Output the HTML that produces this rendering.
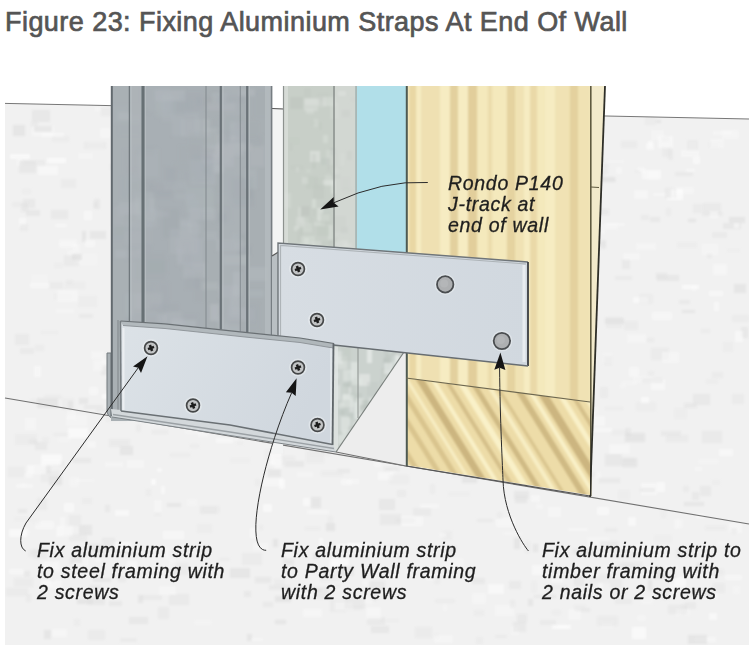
<!DOCTYPE html>
<html><head><meta charset="utf-8">
<style>
html,body{margin:0;padding:0;background:#fff;}
#wrap{position:relative;width:751px;height:649px;overflow:hidden;background:#fff;}
svg{position:absolute;left:0;top:0;}
.title{position:absolute;left:5px;top:7px;font-family:"Liberation Sans",sans-serif;font-size:27px;color:#555;letter-spacing:0.45px;white-space:nowrap;line-height:30px;-webkit-text-stroke:0.7px #555;}
.lbl{position:absolute;font-family:"Liberation Sans",sans-serif;font-style:italic;font-size:19.5px;line-height:21px;color:#1e1e1e;letter-spacing:0.7px;white-space:nowrap;-webkit-text-stroke:0.3px #1e1e1e;}
</style></head>
<body><div id="wrap">
<svg width="751" height="649" viewBox="0 0 751 649">
<defs><clipPath id="slabclip"><polygon points="5,103 749,119 749,645 5,645"/></clipPath><clipPath id="blockclip"><polygon points="406,378 590,402 590,495 406,465"/></clipPath><clipPath id="studclip"><rect x="111" y="86" width="161" height="335"/></clipPath><clipPath id="timclip"><polygon points="406,86 605,86 590,496 590,402 406,378"/></clipPath><clipPath id="jclip"><rect x="283" y="86" width="74" height="270"/></clipPath><filter id="blur1" x="-5%" y="-5%" width="110%" height="110%"><feGaussianBlur stdDeviation="1.2"/></filter><filter id="blur2" x="-5%" y="-5%" width="110%" height="110%"><feGaussianBlur stdDeviation="1.6"/></filter><linearGradient id="gUp" x1="0" x2="1" y1="0" y2="0"><stop offset="0" stop-color="#d7dde3"/><stop offset="1" stop-color="#d1d8df"/></linearGradient><linearGradient id="gLo" x1="0" x2="1" y1="0" y2="0.3"><stop offset="0" stop-color="#dce2e7"/><stop offset="1" stop-color="#d0d7de"/></linearGradient></defs>
<polygon points="5,103 749,119 749,645 5,645" fill="#f1f1f1"/>
<g clip-path="url(#slabclip)"><g filter="url(#blur1)">
<rect x="483" y="139" width="10" height="4" fill="#dedede" opacity="0.33"/>
<rect x="162" y="146" width="14" height="11" fill="#fdfdfd" opacity="0.32"/>
<rect x="616" y="167" width="6" height="7" fill="#f9f9f9" opacity="0.52"/>
<rect x="432" y="127" width="14" height="4" fill="#f9f9f9" opacity="0.32"/>
<rect x="110" y="164" width="19" height="6" fill="#e7e7e7" opacity="0.50"/>
<rect x="421" y="202" width="16" height="4" fill="#e3e3e3" opacity="0.49"/>
<rect x="157" y="468" width="5" height="4" fill="#fdfdfd" opacity="0.57"/>
<rect x="270" y="233" width="12" height="11" fill="#f9f9f9" opacity="0.54"/>
<rect x="391" y="570" width="8" height="8" fill="#fdfdfd" opacity="0.40"/>
<rect x="307" y="510" width="22" height="4" fill="#f9f9f9" opacity="0.63"/>
<rect x="62" y="398" width="12" height="12" fill="#e7e7e7" opacity="0.42"/>
<rect x="590" y="137" width="10" height="7" fill="#e3e3e3" opacity="0.63"/>
<rect x="49" y="476" width="13" height="9" fill="#dedede" opacity="0.65"/>
<rect x="285" y="461" width="19" height="6" fill="#e3e3e3" opacity="0.63"/>
<rect x="367" y="217" width="10" height="8" fill="#e7e7e7" opacity="0.35"/>
<rect x="646" y="143" width="8" height="7" fill="#fdfdfd" opacity="0.44"/>
<rect x="321" y="398" width="9" height="4" fill="#fdfdfd" opacity="0.65"/>
<rect x="173" y="145" width="16" height="6" fill="#f9f9f9" opacity="0.38"/>
<rect x="438" y="241" width="8" height="7" fill="#e3e3e3" opacity="0.35"/>
<rect x="238" y="167" width="14" height="8" fill="#dedede" opacity="0.63"/>
<rect x="338" y="566" width="16" height="10" fill="#dedede" opacity="0.44"/>
<rect x="470" y="134" width="11" height="4" fill="#e3e3e3" opacity="0.64"/>
<rect x="445" y="155" width="12" height="4" fill="#dedede" opacity="0.35"/>
<rect x="24" y="571" width="6" height="6" fill="#dedede" opacity="0.43"/>
<rect x="444" y="353" width="15" height="12" fill="#e3e3e3" opacity="0.60"/>
<rect x="354" y="146" width="22" height="7" fill="#e3e3e3" opacity="0.56"/>
<rect x="508" y="378" width="17" height="7" fill="#f9f9f9" opacity="0.63"/>
<rect x="402" y="115" width="14" height="4" fill="#dedede" opacity="0.40"/>
<rect x="621" y="381" width="16" height="4" fill="#f9f9f9" opacity="0.42"/>
<rect x="375" y="442" width="8" height="8" fill="#dedede" opacity="0.58"/>
<rect x="587" y="537" width="22" height="11" fill="#f9f9f9" opacity="0.37"/>
<rect x="729" y="523" width="13" height="10" fill="#fdfdfd" opacity="0.39"/>
<rect x="330" y="600" width="16" height="12" fill="#e7e7e7" opacity="0.63"/>
<rect x="171" y="206" width="11" height="5" fill="#f9f9f9" opacity="0.47"/>
<rect x="6" y="588" width="22" height="8" fill="#e7e7e7" opacity="0.58"/>
<rect x="677" y="519" width="6" height="9" fill="#f9f9f9" opacity="0.47"/>
<rect x="250" y="528" width="7" height="10" fill="#fdfdfd" opacity="0.46"/>
<rect x="120" y="638" width="17" height="4" fill="#e3e3e3" opacity="0.35"/>
<rect x="111" y="542" width="20" height="10" fill="#fdfdfd" opacity="0.53"/>
<rect x="101" y="108" width="10" height="8" fill="#e3e3e3" opacity="0.48"/>
<rect x="635" y="545" width="21" height="7" fill="#f9f9f9" opacity="0.31"/>
<rect x="567" y="275" width="8" height="8" fill="#dedede" opacity="0.45"/>
<rect x="266" y="345" width="6" height="11" fill="#dedede" opacity="0.59"/>
<rect x="647" y="170" width="13" height="10" fill="#f9f9f9" opacity="0.48"/>
<rect x="140" y="102" width="4" height="7" fill="#f9f9f9" opacity="0.36"/>
<rect x="412" y="275" width="13" height="10" fill="#dedede" opacity="0.49"/>
<rect x="651" y="130" width="13" height="10" fill="#f9f9f9" opacity="0.40"/>
<rect x="413" y="508" width="18" height="8" fill="#e3e3e3" opacity="0.46"/>
<rect x="378" y="472" width="15" height="8" fill="#fdfdfd" opacity="0.48"/>
<rect x="185" y="381" width="19" height="8" fill="#e7e7e7" opacity="0.62"/>
<rect x="329" y="325" width="20" height="5" fill="#fdfdfd" opacity="0.45"/>
<rect x="59" y="461" width="5" height="5" fill="#e3e3e3" opacity="0.61"/>
<rect x="492" y="177" width="7" height="9" fill="#f9f9f9" opacity="0.64"/>
<rect x="298" y="360" width="8" height="12" fill="#f9f9f9" opacity="0.36"/>
<rect x="253" y="205" width="12" height="8" fill="#e7e7e7" opacity="0.33"/>
<rect x="341" y="479" width="11" height="6" fill="#fdfdfd" opacity="0.42"/>
<rect x="52" y="629" width="15" height="8" fill="#f9f9f9" opacity="0.64"/>
<rect x="34" y="520" width="6" height="5" fill="#e7e7e7" opacity="0.56"/>
<rect x="495" y="605" width="19" height="11" fill="#fdfdfd" opacity="0.35"/>
<rect x="512" y="148" width="21" height="8" fill="#e3e3e3" opacity="0.58"/>
<rect x="203" y="109" width="7" height="11" fill="#e3e3e3" opacity="0.58"/>
<rect x="54" y="561" width="6" height="11" fill="#fdfdfd" opacity="0.30"/>
<rect x="666" y="435" width="22" height="7" fill="#e3e3e3" opacity="0.48"/>
<rect x="124" y="127" width="8" height="4" fill="#f9f9f9" opacity="0.63"/>
<rect x="155" y="339" width="15" height="8" fill="#f9f9f9" opacity="0.39"/>
<rect x="32" y="110" width="18" height="12" fill="#dedede" opacity="0.49"/>
<rect x="693" y="157" width="7" height="7" fill="#fdfdfd" opacity="0.53"/>
<rect x="713" y="264" width="14" height="11" fill="#f9f9f9" opacity="0.64"/>
<rect x="524" y="440" width="10" height="10" fill="#fdfdfd" opacity="0.65"/>
<rect x="15" y="434" width="22" height="11" fill="#e7e7e7" opacity="0.45"/>
<rect x="286" y="371" width="5" height="9" fill="#e7e7e7" opacity="0.51"/>
<rect x="140" y="246" width="16" height="3" fill="#e3e3e3" opacity="0.39"/>
<rect x="400" y="230" width="21" height="12" fill="#e7e7e7" opacity="0.38"/>
<rect x="67" y="250" width="7" height="6" fill="#f9f9f9" opacity="0.39"/>
<rect x="598" y="178" width="18" height="4" fill="#dedede" opacity="0.31"/>
<rect x="177" y="416" width="4" height="6" fill="#dedede" opacity="0.60"/>
<rect x="583" y="419" width="7" height="11" fill="#e7e7e7" opacity="0.55"/>
<rect x="457" y="178" width="13" height="6" fill="#dedede" opacity="0.52"/>
<rect x="106" y="380" width="17" height="10" fill="#dedede" opacity="0.50"/>
<rect x="503" y="532" width="19" height="3" fill="#f9f9f9" opacity="0.33"/>
<rect x="714" y="302" width="5" height="9" fill="#fdfdfd" opacity="0.50"/>
<rect x="501" y="362" width="15" height="9" fill="#e3e3e3" opacity="0.46"/>
<rect x="668" y="149" width="5" height="11" fill="#dedede" opacity="0.32"/>
<rect x="59" y="243" width="17" height="5" fill="#f9f9f9" opacity="0.38"/>
<rect x="621" y="141" width="16" height="7" fill="#e7e7e7" opacity="0.57"/>
<rect x="61" y="179" width="15" height="9" fill="#e7e7e7" opacity="0.53"/>
<rect x="102" y="359" width="16" height="9" fill="#fdfdfd" opacity="0.39"/>
<rect x="497" y="256" width="16" height="9" fill="#dedede" opacity="0.40"/>
<rect x="732" y="394" width="12" height="10" fill="#e7e7e7" opacity="0.64"/>
<rect x="337" y="544" width="21" height="3" fill="#fdfdfd" opacity="0.65"/>
<rect x="687" y="140" width="11" height="11" fill="#e3e3e3" opacity="0.35"/>
<rect x="102" y="538" width="13" height="12" fill="#dedede" opacity="0.40"/>
<rect x="372" y="572" width="6" height="6" fill="#fdfdfd" opacity="0.31"/>
<rect x="339" y="262" width="4" height="7" fill="#f9f9f9" opacity="0.45"/>
<rect x="248" y="276" width="11" height="4" fill="#e7e7e7" opacity="0.59"/>
<rect x="531" y="581" width="6" height="11" fill="#e7e7e7" opacity="0.39"/>
<rect x="648" y="141" width="5" height="7" fill="#fdfdfd" opacity="0.56"/>
<rect x="42" y="457" width="19" height="6" fill="#f9f9f9" opacity="0.39"/>
<rect x="145" y="301" width="9" height="8" fill="#fdfdfd" opacity="0.61"/>
<rect x="668" y="605" width="19" height="9" fill="#dedede" opacity="0.37"/>
<rect x="308" y="428" width="5" height="11" fill="#f9f9f9" opacity="0.53"/>
<rect x="686" y="169" width="9" height="3" fill="#fdfdfd" opacity="0.45"/>
<rect x="548" y="452" width="9" height="5" fill="#fdfdfd" opacity="0.53"/>
<rect x="295" y="190" width="9" height="8" fill="#f9f9f9" opacity="0.33"/>
<rect x="407" y="342" width="13" height="10" fill="#e7e7e7" opacity="0.65"/>
<rect x="146" y="149" width="12" height="4" fill="#e7e7e7" opacity="0.49"/>
<rect x="599" y="209" width="10" height="6" fill="#e3e3e3" opacity="0.56"/>
<rect x="389" y="303" width="11" height="7" fill="#e7e7e7" opacity="0.56"/>
<rect x="268" y="469" width="13" height="8" fill="#dedede" opacity="0.52"/>
<rect x="201" y="234" width="20" height="5" fill="#fdfdfd" opacity="0.53"/>
<rect x="601" y="622" width="12" height="6" fill="#f9f9f9" opacity="0.31"/>
<rect x="349" y="414" width="17" height="11" fill="#e3e3e3" opacity="0.33"/>
<rect x="387" y="350" width="21" height="11" fill="#fdfdfd" opacity="0.39"/>
<rect x="391" y="469" width="6" height="4" fill="#fdfdfd" opacity="0.33"/>
<rect x="96" y="409" width="18" height="3" fill="#e3e3e3" opacity="0.53"/>
<rect x="190" y="444" width="9" height="4" fill="#e3e3e3" opacity="0.33"/>
<rect x="146" y="239" width="9" height="11" fill="#dedede" opacity="0.30"/>
<rect x="208" y="269" width="14" height="12" fill="#f9f9f9" opacity="0.47"/>
<rect x="712" y="480" width="8" height="5" fill="#e7e7e7" opacity="0.32"/>
<rect x="482" y="143" width="7" height="11" fill="#f9f9f9" opacity="0.53"/>
<rect x="30" y="283" width="21" height="5" fill="#fdfdfd" opacity="0.43"/>
<rect x="219" y="558" width="11" height="3" fill="#e3e3e3" opacity="0.37"/>
<rect x="597" y="224" width="21" height="6" fill="#f9f9f9" opacity="0.39"/>
<rect x="456" y="430" width="20" height="4" fill="#f9f9f9" opacity="0.47"/>
<rect x="435" y="599" width="20" height="4" fill="#e3e3e3" opacity="0.37"/>
<rect x="42" y="133" width="22" height="4" fill="#fdfdfd" opacity="0.46"/>
<rect x="87" y="143" width="17" height="6" fill="#f9f9f9" opacity="0.42"/>
<rect x="555" y="117" width="7" height="11" fill="#fdfdfd" opacity="0.59"/>
<rect x="84" y="142" width="22" height="7" fill="#e3e3e3" opacity="0.42"/>
<rect x="702" y="212" width="21" height="4" fill="#e7e7e7" opacity="0.57"/>
<rect x="69" y="477" width="10" height="10" fill="#f9f9f9" opacity="0.43"/>
<rect x="269" y="585" width="21" height="5" fill="#e3e3e3" opacity="0.52"/>
<rect x="303" y="301" width="8" height="9" fill="#fdfdfd" opacity="0.32"/>
<rect x="546" y="585" width="21" height="5" fill="#e7e7e7" opacity="0.43"/>
<rect x="37" y="498" width="10" height="12" fill="#e7e7e7" opacity="0.62"/>
<rect x="443" y="531" width="9" height="9" fill="#e3e3e3" opacity="0.31"/>
<rect x="709" y="613" width="8" height="7" fill="#fdfdfd" opacity="0.58"/>
<rect x="101" y="365" width="20" height="10" fill="#e3e3e3" opacity="0.58"/>
<rect x="567" y="425" width="17" height="10" fill="#e7e7e7" opacity="0.60"/>
<rect x="441" y="374" width="12" height="10" fill="#fdfdfd" opacity="0.56"/>
<rect x="30" y="399" width="8" height="4" fill="#e7e7e7" opacity="0.36"/>
<rect x="58" y="438" width="12" height="4" fill="#f9f9f9" opacity="0.33"/>
<rect x="332" y="225" width="13" height="9" fill="#fdfdfd" opacity="0.46"/>
<rect x="395" y="518" width="20" height="5" fill="#e3e3e3" opacity="0.57"/>
<rect x="202" y="237" width="9" height="6" fill="#e7e7e7" opacity="0.37"/>
<rect x="118" y="577" width="8" height="5" fill="#dedede" opacity="0.37"/>
<rect x="187" y="384" width="5" height="5" fill="#e3e3e3" opacity="0.53"/>
<rect x="348" y="543" width="22" height="4" fill="#fdfdfd" opacity="0.62"/>
<rect x="93" y="202" width="5" height="6" fill="#dedede" opacity="0.37"/>
<rect x="136" y="424" width="5" height="8" fill="#e3e3e3" opacity="0.34"/>
<rect x="164" y="298" width="15" height="9" fill="#f9f9f9" opacity="0.32"/>
<rect x="534" y="595" width="22" height="3" fill="#e3e3e3" opacity="0.59"/>
<rect x="460" y="142" width="11" height="6" fill="#e3e3e3" opacity="0.58"/>
<rect x="79" y="314" width="14" height="4" fill="#dedede" opacity="0.35"/>
<rect x="296" y="245" width="14" height="9" fill="#e7e7e7" opacity="0.53"/>
<rect x="551" y="579" width="12" height="3" fill="#fdfdfd" opacity="0.45"/>
<rect x="269" y="205" width="20" height="12" fill="#fdfdfd" opacity="0.37"/>
<rect x="319" y="538" width="4" height="11" fill="#fdfdfd" opacity="0.50"/>
<rect x="100" y="128" width="11" height="10" fill="#f9f9f9" opacity="0.52"/>
<rect x="455" y="301" width="20" height="4" fill="#dedede" opacity="0.36"/>
<rect x="131" y="136" width="10" height="4" fill="#fdfdfd" opacity="0.47"/>
<rect x="148" y="168" width="18" height="12" fill="#e3e3e3" opacity="0.64"/>
<rect x="682" y="310" width="13" height="3" fill="#dedede" opacity="0.54"/>
<rect x="625" y="433" width="20" height="9" fill="#dedede" opacity="0.60"/>
<rect x="163" y="316" width="19" height="5" fill="#dedede" opacity="0.35"/>
<rect x="717" y="541" width="10" height="4" fill="#f9f9f9" opacity="0.31"/>
<rect x="33" y="549" width="14" height="10" fill="#e3e3e3" opacity="0.44"/>
<rect x="574" y="447" width="12" height="11" fill="#e7e7e7" opacity="0.50"/>
<rect x="332" y="335" width="12" height="9" fill="#e3e3e3" opacity="0.30"/>
<rect x="328" y="433" width="22" height="7" fill="#fdfdfd" opacity="0.59"/>
<rect x="54" y="293" width="19" height="7" fill="#e7e7e7" opacity="0.33"/>
<rect x="35" y="442" width="12" height="8" fill="#e3e3e3" opacity="0.62"/>
<rect x="64" y="503" width="10" height="9" fill="#fdfdfd" opacity="0.53"/>
<rect x="53" y="433" width="18" height="3" fill="#e3e3e3" opacity="0.37"/>
<rect x="696" y="592" width="22" height="7" fill="#f9f9f9" opacity="0.54"/>
<rect x="611" y="430" width="17" height="5" fill="#e7e7e7" opacity="0.36"/>
<rect x="595" y="177" width="20" height="5" fill="#dedede" opacity="0.64"/>
<rect x="455" y="227" width="13" height="8" fill="#e7e7e7" opacity="0.31"/>
<rect x="695" y="467" width="7" height="4" fill="#fdfdfd" opacity="0.36"/>
<rect x="390" y="444" width="18" height="4" fill="#e7e7e7" opacity="0.64"/>
<rect x="509" y="581" width="12" height="8" fill="#e7e7e7" opacity="0.65"/>
<rect x="586" y="243" width="15" height="7" fill="#e7e7e7" opacity="0.50"/>
<rect x="329" y="195" width="10" height="10" fill="#e3e3e3" opacity="0.40"/>
<rect x="711" y="569" width="13" height="6" fill="#e7e7e7" opacity="0.56"/>
<rect x="216" y="438" width="17" height="5" fill="#fdfdfd" opacity="0.48"/>
<rect x="170" y="453" width="20" height="4" fill="#e3e3e3" opacity="0.32"/>
<rect x="387" y="388" width="14" height="6" fill="#fdfdfd" opacity="0.50"/>
<rect x="460" y="357" width="15" height="5" fill="#f9f9f9" opacity="0.30"/>
<rect x="332" y="134" width="18" height="9" fill="#f9f9f9" opacity="0.60"/>
<rect x="197" y="106" width="18" height="7" fill="#dedede" opacity="0.61"/>
<rect x="444" y="378" width="15" height="8" fill="#fdfdfd" opacity="0.39"/>
<rect x="390" y="320" width="20" height="3" fill="#f9f9f9" opacity="0.36"/>
<rect x="448" y="455" width="20" height="4" fill="#f9f9f9" opacity="0.35"/>
<rect x="378" y="444" width="8" height="8" fill="#dedede" opacity="0.36"/>
<rect x="41" y="580" width="10" height="6" fill="#fdfdfd" opacity="0.55"/>
<rect x="556" y="349" width="4" height="11" fill="#fdfdfd" opacity="0.36"/>
<rect x="470" y="167" width="22" height="5" fill="#e7e7e7" opacity="0.55"/>
<rect x="326" y="523" width="9" height="8" fill="#dedede" opacity="0.64"/>
<rect x="662" y="146" width="9" height="11" fill="#dedede" opacity="0.31"/>
<rect x="552" y="610" width="9" height="5" fill="#e7e7e7" opacity="0.37"/>
<rect x="283" y="557" width="11" height="8" fill="#dedede" opacity="0.46"/>
<rect x="627" y="334" width="19" height="9" fill="#f9f9f9" opacity="0.50"/>
<rect x="462" y="142" width="10" height="5" fill="#f9f9f9" opacity="0.35"/>
<rect x="692" y="287" width="4" height="4" fill="#f9f9f9" opacity="0.55"/>
<rect x="481" y="123" width="5" height="4" fill="#e3e3e3" opacity="0.56"/>
<rect x="273" y="539" width="5" height="8" fill="#dedede" opacity="0.61"/>
<rect x="681" y="604" width="5" height="11" fill="#e3e3e3" opacity="0.39"/>
<rect x="704" y="594" width="8" height="3" fill="#e3e3e3" opacity="0.59"/>
<rect x="78" y="153" width="15" height="6" fill="#f9f9f9" opacity="0.40"/>
<rect x="263" y="602" width="10" height="5" fill="#e3e3e3" opacity="0.55"/>
<rect x="712" y="372" width="11" height="6" fill="#e7e7e7" opacity="0.52"/>
<rect x="328" y="516" width="5" height="7" fill="#e7e7e7" opacity="0.46"/>
<rect x="533" y="544" width="5" height="8" fill="#dedede" opacity="0.59"/>
<rect x="154" y="513" width="7" height="3" fill="#e3e3e3" opacity="0.30"/>
<rect x="588" y="199" width="13" height="7" fill="#fdfdfd" opacity="0.51"/>
<rect x="423" y="185" width="21" height="8" fill="#f9f9f9" opacity="0.63"/>
<rect x="696" y="514" width="8" height="4" fill="#fdfdfd" opacity="0.58"/>
<rect x="462" y="290" width="17" height="10" fill="#fdfdfd" opacity="0.62"/>
<rect x="311" y="446" width="20" height="10" fill="#e7e7e7" opacity="0.37"/>
<rect x="374" y="303" width="9" height="11" fill="#f9f9f9" opacity="0.63"/>
<rect x="513" y="425" width="6" height="8" fill="#e3e3e3" opacity="0.42"/>
<rect x="624" y="458" width="10" height="4" fill="#e7e7e7" opacity="0.36"/>
<rect x="429" y="167" width="12" height="10" fill="#fdfdfd" opacity="0.52"/>
<rect x="200" y="506" width="17" height="8" fill="#dedede" opacity="0.35"/>
<rect x="246" y="382" width="7" height="5" fill="#f9f9f9" opacity="0.38"/>
<rect x="695" y="637" width="21" height="5" fill="#f9f9f9" opacity="0.64"/>
<rect x="731" y="528" width="6" height="6" fill="#e7e7e7" opacity="0.45"/>
<rect x="84" y="211" width="8" height="9" fill="#fdfdfd" opacity="0.46"/>
<rect x="328" y="219" width="4" height="11" fill="#e7e7e7" opacity="0.46"/>
<rect x="303" y="498" width="7" height="8" fill="#fdfdfd" opacity="0.55"/>
<rect x="622" y="458" width="15" height="9" fill="#dedede" opacity="0.60"/>
<rect x="335" y="268" width="16" height="9" fill="#e3e3e3" opacity="0.61"/>
<rect x="529" y="184" width="8" height="7" fill="#fdfdfd" opacity="0.47"/>
<rect x="388" y="453" width="4" height="11" fill="#f9f9f9" opacity="0.61"/>
<rect x="616" y="592" width="10" height="3" fill="#e3e3e3" opacity="0.31"/>
<rect x="576" y="608" width="14" height="4" fill="#dedede" opacity="0.42"/>
<rect x="154" y="356" width="19" height="7" fill="#e3e3e3" opacity="0.52"/>
<rect x="303" y="609" width="19" height="8" fill="#f9f9f9" opacity="0.65"/>
<rect x="692" y="492" width="7" height="8" fill="#dedede" opacity="0.42"/>
<rect x="300" y="107" width="5" height="5" fill="#fdfdfd" opacity="0.62"/>
<rect x="428" y="159" width="15" height="9" fill="#e7e7e7" opacity="0.56"/>
<rect x="163" y="531" width="21" height="8" fill="#fdfdfd" opacity="0.46"/>
<rect x="56" y="526" width="7" height="11" fill="#f9f9f9" opacity="0.46"/>
<rect x="709" y="291" width="14" height="5" fill="#fdfdfd" opacity="0.46"/>
<rect x="97" y="548" width="9" height="8" fill="#e7e7e7" opacity="0.57"/>
<rect x="511" y="626" width="8" height="9" fill="#f9f9f9" opacity="0.47"/>
<rect x="265" y="450" width="18" height="10" fill="#e7e7e7" opacity="0.47"/>
<rect x="488" y="294" width="12" height="9" fill="#e7e7e7" opacity="0.60"/>
<rect x="674" y="519" width="5" height="10" fill="#f9f9f9" opacity="0.49"/>
<rect x="487" y="213" width="10" height="8" fill="#e3e3e3" opacity="0.53"/>
<rect x="110" y="226" width="9" height="4" fill="#fdfdfd" opacity="0.42"/>
<rect x="589" y="190" width="7" height="11" fill="#dedede" opacity="0.64"/>
<rect x="410" y="440" width="6" height="11" fill="#e7e7e7" opacity="0.37"/>
<rect x="545" y="336" width="16" height="8" fill="#e3e3e3" opacity="0.49"/>
<rect x="107" y="366" width="9" height="5" fill="#e3e3e3" opacity="0.47"/>
<rect x="183" y="188" width="20" height="9" fill="#dedede" opacity="0.60"/>
<rect x="351" y="401" width="4" height="11" fill="#e7e7e7" opacity="0.59"/>
<rect x="709" y="141" width="11" height="7" fill="#e7e7e7" opacity="0.52"/>
<rect x="510" y="600" width="5" height="8" fill="#e7e7e7" opacity="0.58"/>
<rect x="564" y="178" width="6" height="7" fill="#f9f9f9" opacity="0.55"/>
<rect x="633" y="297" width="15" height="6" fill="#fdfdfd" opacity="0.57"/>
<rect x="212" y="283" width="14" height="11" fill="#e7e7e7" opacity="0.49"/>
<rect x="605" y="318" width="19" height="6" fill="#dedede" opacity="0.64"/>
<rect x="152" y="365" width="20" height="6" fill="#e3e3e3" opacity="0.42"/>
<rect x="436" y="442" width="10" height="6" fill="#e3e3e3" opacity="0.44"/>
<rect x="424" y="315" width="14" height="7" fill="#e3e3e3" opacity="0.30"/>
<rect x="453" y="451" width="7" height="11" fill="#dedede" opacity="0.62"/>
<rect x="462" y="474" width="15" height="9" fill="#dedede" opacity="0.61"/>
<rect x="473" y="439" width="5" height="3" fill="#f9f9f9" opacity="0.34"/>
<rect x="576" y="595" width="7" height="3" fill="#e3e3e3" opacity="0.43"/>
<rect x="413" y="238" width="19" height="10" fill="#e7e7e7" opacity="0.36"/>
<rect x="424" y="413" width="5" height="3" fill="#e3e3e3" opacity="0.47"/>
<rect x="570" y="325" width="13" height="10" fill="#fdfdfd" opacity="0.46"/>
<rect x="443" y="605" width="4" height="6" fill="#f9f9f9" opacity="0.47"/>
<rect x="477" y="215" width="11" height="4" fill="#f9f9f9" opacity="0.52"/>
<rect x="495" y="635" width="12" height="3" fill="#e3e3e3" opacity="0.38"/>
<rect x="208" y="406" width="6" height="7" fill="#fdfdfd" opacity="0.56"/>
<rect x="575" y="486" width="7" height="3" fill="#f9f9f9" opacity="0.56"/>
<rect x="529" y="347" width="6" height="9" fill="#e7e7e7" opacity="0.62"/>
<rect x="50" y="579" width="5" height="3" fill="#dedede" opacity="0.33"/>
<rect x="127" y="561" width="10" height="10" fill="#fdfdfd" opacity="0.51"/>
<rect x="539" y="351" width="10" height="12" fill="#f9f9f9" opacity="0.35"/>
<rect x="473" y="439" width="18" height="6" fill="#fdfdfd" opacity="0.47"/>
<rect x="202" y="506" width="18" height="7" fill="#e7e7e7" opacity="0.40"/>
<rect x="525" y="541" width="5" height="12" fill="#e7e7e7" opacity="0.60"/>
<rect x="115" y="551" width="17" height="3" fill="#dedede" opacity="0.45"/>
<rect x="501" y="424" width="20" height="6" fill="#f9f9f9" opacity="0.58"/>
<rect x="198" y="329" width="9" height="3" fill="#dedede" opacity="0.62"/>
<rect x="215" y="175" width="18" height="10" fill="#dedede" opacity="0.35"/>
<rect x="401" y="516" width="22" height="10" fill="#fdfdfd" opacity="0.42"/>
<rect x="594" y="208" width="6" height="8" fill="#f9f9f9" opacity="0.41"/>
<rect x="528" y="599" width="5" height="7" fill="#dedede" opacity="0.56"/>
<rect x="69" y="534" width="18" height="7" fill="#e3e3e3" opacity="0.38"/>
<rect x="651" y="379" width="14" height="11" fill="#fdfdfd" opacity="0.48"/>
<rect x="73" y="535" width="8" height="5" fill="#e7e7e7" opacity="0.43"/>
<rect x="382" y="180" width="14" height="7" fill="#e3e3e3" opacity="0.62"/>
<rect x="277" y="348" width="13" height="11" fill="#e3e3e3" opacity="0.35"/>
<rect x="384" y="111" width="15" height="6" fill="#e3e3e3" opacity="0.37"/>
<rect x="430" y="215" width="20" height="8" fill="#e7e7e7" opacity="0.45"/>
<rect x="597" y="616" width="21" height="10" fill="#e7e7e7" opacity="0.60"/>
<rect x="283" y="115" width="10" height="12" fill="#e3e3e3" opacity="0.50"/>
<rect x="691" y="589" width="20" height="7" fill="#e3e3e3" opacity="0.60"/>
<rect x="520" y="148" width="16" height="11" fill="#e7e7e7" opacity="0.50"/>
<rect x="493" y="310" width="16" height="12" fill="#fdfdfd" opacity="0.60"/>
<rect x="534" y="193" width="11" height="5" fill="#e7e7e7" opacity="0.63"/>
<rect x="26" y="594" width="5" height="8" fill="#e7e7e7" opacity="0.58"/>
<rect x="722" y="130" width="17" height="9" fill="#f9f9f9" opacity="0.41"/>
<rect x="559" y="419" width="4" height="5" fill="#fdfdfd" opacity="0.57"/>
<rect x="195" y="167" width="6" height="6" fill="#fdfdfd" opacity="0.43"/>
<rect x="674" y="577" width="12" height="10" fill="#fdfdfd" opacity="0.55"/>
<rect x="688" y="219" width="8" height="3" fill="#dedede" opacity="0.60"/>
<rect x="329" y="152" width="20" height="4" fill="#fdfdfd" opacity="0.59"/>
<rect x="253" y="543" width="15" height="7" fill="#fdfdfd" opacity="0.34"/>
<rect x="545" y="197" width="11" height="6" fill="#fdfdfd" opacity="0.49"/>
<rect x="201" y="320" width="7" height="11" fill="#f9f9f9" opacity="0.31"/>
<rect x="592" y="241" width="14" height="6" fill="#e3e3e3" opacity="0.41"/>
<rect x="713" y="131" width="20" height="4" fill="#f9f9f9" opacity="0.50"/>
<rect x="552" y="625" width="19" height="4" fill="#fdfdfd" opacity="0.65"/>
<rect x="75" y="254" width="22" height="11" fill="#f9f9f9" opacity="0.32"/>
<rect x="716" y="109" width="17" height="6" fill="#dedede" opacity="0.42"/>
<rect x="619" y="385" width="7" height="3" fill="#f9f9f9" opacity="0.43"/>
<rect x="210" y="197" width="5" height="7" fill="#f9f9f9" opacity="0.48"/>
<rect x="447" y="548" width="8" height="5" fill="#dedede" opacity="0.56"/>
<rect x="105" y="462" width="18" height="5" fill="#f9f9f9" opacity="0.50"/>
<rect x="545" y="321" width="8" height="4" fill="#e3e3e3" opacity="0.48"/>
<rect x="474" y="610" width="10" height="6" fill="#e3e3e3" opacity="0.31"/>
<rect x="636" y="243" width="20" height="7" fill="#f9f9f9" opacity="0.50"/>
<rect x="512" y="411" width="22" height="3" fill="#e3e3e3" opacity="0.42"/>
<rect x="57" y="290" width="21" height="12" fill="#f9f9f9" opacity="0.59"/>
<rect x="520" y="306" width="20" height="6" fill="#e3e3e3" opacity="0.40"/>
<rect x="334" y="114" width="6" height="10" fill="#dedede" opacity="0.35"/>
<rect x="460" y="191" width="8" height="4" fill="#e7e7e7" opacity="0.39"/>
<rect x="75" y="479" width="19" height="3" fill="#f9f9f9" opacity="0.39"/>
<rect x="341" y="228" width="19" height="9" fill="#fdfdfd" opacity="0.34"/>
<rect x="38" y="166" width="20" height="9" fill="#fdfdfd" opacity="0.51"/>
<rect x="93" y="578" width="18" height="4" fill="#dedede" opacity="0.51"/>
<rect x="420" y="504" width="19" height="4" fill="#f9f9f9" opacity="0.63"/>
<rect x="518" y="420" width="4" height="9" fill="#dedede" opacity="0.48"/>
<rect x="574" y="281" width="11" height="11" fill="#f9f9f9" opacity="0.59"/>
<rect x="415" y="627" width="17" height="11" fill="#e7e7e7" opacity="0.59"/>
<rect x="380" y="619" width="19" height="3" fill="#e7e7e7" opacity="0.39"/>
<rect x="272" y="385" width="12" height="9" fill="#e3e3e3" opacity="0.41"/>
<rect x="171" y="326" width="8" height="9" fill="#fdfdfd" opacity="0.57"/>
<rect x="590" y="574" width="21" height="9" fill="#e3e3e3" opacity="0.31"/>
<rect x="499" y="248" width="16" height="5" fill="#dedede" opacity="0.58"/>
<rect x="95" y="107" width="5" height="4" fill="#f9f9f9" opacity="0.63"/>
<rect x="481" y="165" width="9" height="6" fill="#dedede" opacity="0.64"/>
<rect x="66" y="415" width="21" height="11" fill="#f9f9f9" opacity="0.45"/>
<rect x="674" y="408" width="13" height="11" fill="#e7e7e7" opacity="0.39"/>
<rect x="625" y="428" width="6" height="8" fill="#dedede" opacity="0.38"/>
<rect x="274" y="579" width="11" height="8" fill="#e7e7e7" opacity="0.51"/>
<rect x="182" y="219" width="12" height="6" fill="#dedede" opacity="0.49"/>
<rect x="673" y="187" width="21" height="7" fill="#f9f9f9" opacity="0.41"/>
<rect x="650" y="217" width="10" height="5" fill="#e3e3e3" opacity="0.57"/>
<rect x="647" y="338" width="7" height="4" fill="#e3e3e3" opacity="0.48"/>
<rect x="558" y="381" width="19" height="6" fill="#f9f9f9" opacity="0.45"/>
<rect x="152" y="430" width="16" height="4" fill="#e7e7e7" opacity="0.59"/>
<rect x="548" y="507" width="13" height="10" fill="#fdfdfd" opacity="0.39"/>
<rect x="518" y="322" width="15" height="9" fill="#e3e3e3" opacity="0.30"/>
<rect x="367" y="617" width="18" height="8" fill="#dedede" opacity="0.35"/>
<rect x="455" y="160" width="19" height="6" fill="#fdfdfd" opacity="0.54"/>
<rect x="264" y="383" width="9" height="6" fill="#dedede" opacity="0.43"/>
<rect x="629" y="367" width="10" height="10" fill="#fdfdfd" opacity="0.41"/>
<rect x="323" y="302" width="14" height="10" fill="#f9f9f9" opacity="0.33"/>
<rect x="615" y="552" width="21" height="6" fill="#e7e7e7" opacity="0.37"/>
<rect x="13" y="125" width="12" height="11" fill="#dedede" opacity="0.61"/>
<rect x="235" y="433" width="9" height="8" fill="#fdfdfd" opacity="0.48"/>
<rect x="290" y="292" width="13" height="9" fill="#dedede" opacity="0.54"/>
<rect x="55" y="224" width="12" height="3" fill="#fdfdfd" opacity="0.43"/>
<rect x="426" y="572" width="11" height="8" fill="#fdfdfd" opacity="0.47"/>
<rect x="734" y="284" width="12" height="9" fill="#dedede" opacity="0.56"/>
<rect x="276" y="140" width="6" height="6" fill="#e7e7e7" opacity="0.48"/>
<rect x="514" y="538" width="6" height="11" fill="#dedede" opacity="0.61"/>
<rect x="217" y="377" width="12" height="4" fill="#dedede" opacity="0.61"/>
<rect x="419" y="158" width="11" height="4" fill="#dedede" opacity="0.65"/>
<rect x="305" y="527" width="15" height="3" fill="#e7e7e7" opacity="0.55"/>
<rect x="295" y="153" width="14" height="11" fill="#e3e3e3" opacity="0.53"/>
<rect x="412" y="243" width="8" height="7" fill="#dedede" opacity="0.48"/>
<rect x="449" y="179" width="7" height="5" fill="#dedede" opacity="0.57"/>
<rect x="131" y="383" width="6" height="4" fill="#fdfdfd" opacity="0.51"/>
<rect x="14" y="517" width="19" height="4" fill="#e7e7e7" opacity="0.35"/>
<rect x="29" y="439" width="8" height="5" fill="#dedede" opacity="0.32"/>
<rect x="19" y="218" width="7" height="9" fill="#fdfdfd" opacity="0.50"/>
<rect x="453" y="234" width="21" height="7" fill="#e3e3e3" opacity="0.36"/>
<rect x="9" y="569" width="15" height="5" fill="#fdfdfd" opacity="0.41"/>
<rect x="366" y="607" width="15" height="12" fill="#f9f9f9" opacity="0.54"/>
<rect x="306" y="314" width="16" height="8" fill="#fdfdfd" opacity="0.31"/>
<rect x="128" y="305" width="20" height="4" fill="#e3e3e3" opacity="0.64"/>
<rect x="89" y="387" width="9" height="8" fill="#fdfdfd" opacity="0.42"/>
<rect x="313" y="587" width="16" height="12" fill="#dedede" opacity="0.39"/>
<rect x="180" y="119" width="7" height="6" fill="#e3e3e3" opacity="0.42"/>
<rect x="73" y="244" width="7" height="9" fill="#f9f9f9" opacity="0.49"/>
<rect x="181" y="297" width="12" height="10" fill="#f9f9f9" opacity="0.55"/>
<rect x="158" y="607" width="11" height="12" fill="#dedede" opacity="0.37"/>
<rect x="688" y="635" width="19" height="9" fill="#dedede" opacity="0.61"/>
<rect x="185" y="428" width="15" height="6" fill="#f9f9f9" opacity="0.34"/>
<rect x="71" y="557" width="18" height="9" fill="#fdfdfd" opacity="0.31"/>
<rect x="16" y="484" width="17" height="4" fill="#f9f9f9" opacity="0.57"/>
<rect x="661" y="137" width="8" height="5" fill="#e7e7e7" opacity="0.58"/>
<rect x="527" y="148" width="18" height="5" fill="#e7e7e7" opacity="0.34"/>
<rect x="298" y="590" width="17" height="6" fill="#f9f9f9" opacity="0.63"/>
<rect x="594" y="472" width="7" height="6" fill="#fdfdfd" opacity="0.31"/>
<rect x="732" y="315" width="17" height="7" fill="#e3e3e3" opacity="0.36"/>
<rect x="547" y="480" width="6" height="11" fill="#e3e3e3" opacity="0.44"/>
<rect x="557" y="184" width="15" height="7" fill="#e3e3e3" opacity="0.49"/>
<rect x="416" y="221" width="15" height="11" fill="#fdfdfd" opacity="0.55"/>
<rect x="508" y="288" width="9" height="7" fill="#e3e3e3" opacity="0.34"/>
<rect x="659" y="569" width="18" height="9" fill="#dedede" opacity="0.51"/>
<rect x="87" y="527" width="5" height="5" fill="#f9f9f9" opacity="0.57"/>
<rect x="311" y="497" width="10" height="11" fill="#dedede" opacity="0.59"/>
<rect x="701" y="329" width="9" height="4" fill="#e7e7e7" opacity="0.54"/>
<rect x="461" y="342" width="17" height="10" fill="#e3e3e3" opacity="0.54"/>
<rect x="628" y="517" width="8" height="9" fill="#fdfdfd" opacity="0.57"/>
<rect x="601" y="240" width="5" height="9" fill="#dedede" opacity="0.36"/>
<rect x="194" y="620" width="18" height="5" fill="#f9f9f9" opacity="0.43"/>
<rect x="233" y="174" width="11" height="5" fill="#fdfdfd" opacity="0.53"/>
<rect x="384" y="340" width="8" height="5" fill="#e7e7e7" opacity="0.54"/>
<rect x="438" y="229" width="6" height="9" fill="#e3e3e3" opacity="0.49"/>
<rect x="489" y="424" width="18" height="5" fill="#fdfdfd" opacity="0.59"/>
<rect x="511" y="107" width="11" height="5" fill="#fdfdfd" opacity="0.37"/>
<rect x="151" y="479" width="5" height="6" fill="#fdfdfd" opacity="0.64"/>
<rect x="425" y="256" width="7" height="7" fill="#dedede" opacity="0.33"/>
<rect x="560" y="145" width="4" height="12" fill="#e7e7e7" opacity="0.64"/>
<rect x="362" y="335" width="14" height="4" fill="#f9f9f9" opacity="0.57"/>
<rect x="72" y="254" width="10" height="6" fill="#dedede" opacity="0.63"/>
<rect x="184" y="175" width="16" height="5" fill="#e3e3e3" opacity="0.31"/>
<rect x="275" y="620" width="11" height="4" fill="#dedede" opacity="0.60"/>
<rect x="573" y="549" width="21" height="5" fill="#dedede" opacity="0.41"/>
<rect x="241" y="297" width="7" height="10" fill="#dedede" opacity="0.62"/>
<rect x="47" y="158" width="19" height="5" fill="#fdfdfd" opacity="0.62"/>
<rect x="366" y="185" width="21" height="7" fill="#e7e7e7" opacity="0.51"/>
<rect x="171" y="175" width="15" height="4" fill="#fdfdfd" opacity="0.33"/>
<rect x="146" y="489" width="5" height="7" fill="#e3e3e3" opacity="0.31"/>
<rect x="378" y="177" width="15" height="11" fill="#e3e3e3" opacity="0.53"/>
<rect x="252" y="336" width="13" height="7" fill="#f9f9f9" opacity="0.62"/>
<rect x="332" y="404" width="7" height="6" fill="#e7e7e7" opacity="0.50"/>
<rect x="383" y="330" width="12" height="8" fill="#dedede" opacity="0.62"/>
<rect x="702" y="431" width="20" height="12" fill="#e3e3e3" opacity="0.55"/>
<rect x="420" y="326" width="10" height="9" fill="#e7e7e7" opacity="0.47"/>
<rect x="255" y="577" width="16" height="6" fill="#e3e3e3" opacity="0.60"/>
<rect x="514" y="179" width="8" height="10" fill="#dedede" opacity="0.43"/>
<rect x="392" y="404" width="14" height="7" fill="#fdfdfd" opacity="0.39"/>
<rect x="154" y="500" width="8" height="12" fill="#f9f9f9" opacity="0.60"/>
<rect x="395" y="236" width="9" height="4" fill="#fdfdfd" opacity="0.38"/>
<rect x="515" y="495" width="12" height="8" fill="#dedede" opacity="0.50"/>
<rect x="585" y="172" width="19" height="9" fill="#dedede" opacity="0.49"/>
<rect x="88" y="630" width="17" height="10" fill="#dedede" opacity="0.34"/>
<rect x="129" y="617" width="19" height="7" fill="#dedede" opacity="0.47"/>
<rect x="462" y="318" width="6" height="6" fill="#e3e3e3" opacity="0.43"/>
<rect x="163" y="261" width="4" height="8" fill="#f9f9f9" opacity="0.45"/>
<rect x="636" y="402" width="20" height="9" fill="#e7e7e7" opacity="0.36"/>
<rect x="560" y="467" width="17" height="6" fill="#e7e7e7" opacity="0.34"/>
<rect x="700" y="486" width="11" height="10" fill="#e3e3e3" opacity="0.59"/>
<rect x="245" y="425" width="10" height="6" fill="#e3e3e3" opacity="0.62"/>
<rect x="146" y="341" width="16" height="5" fill="#dedede" opacity="0.45"/>
<rect x="59" y="239" width="18" height="7" fill="#f9f9f9" opacity="0.49"/>
<rect x="285" y="177" width="9" height="9" fill="#e7e7e7" opacity="0.49"/>
<rect x="695" y="107" width="16" height="10" fill="#e7e7e7" opacity="0.65"/>
<rect x="28" y="550" width="13" height="7" fill="#e3e3e3" opacity="0.36"/>
<rect x="290" y="355" width="19" height="9" fill="#f9f9f9" opacity="0.54"/>
<rect x="706" y="379" width="12" height="5" fill="#e7e7e7" opacity="0.42"/>
<rect x="439" y="123" width="8" height="11" fill="#f9f9f9" opacity="0.59"/>
<rect x="345" y="605" width="17" height="6" fill="#e7e7e7" opacity="0.30"/>
<rect x="20" y="348" width="14" height="6" fill="#dedede" opacity="0.32"/>
<rect x="206" y="246" width="7" height="9" fill="#dedede" opacity="0.65"/>
<rect x="434" y="175" width="10" height="8" fill="#e3e3e3" opacity="0.62"/>
<rect x="149" y="331" width="20" height="4" fill="#dedede" opacity="0.52"/>
<rect x="588" y="571" width="11" height="6" fill="#f9f9f9" opacity="0.54"/>
<rect x="548" y="372" width="9" height="10" fill="#f9f9f9" opacity="0.42"/>
<rect x="49" y="282" width="14" height="7" fill="#e7e7e7" opacity="0.61"/>
<rect x="654" y="535" width="18" height="8" fill="#e7e7e7" opacity="0.35"/>
<rect x="499" y="316" width="8" height="11" fill="#fdfdfd" opacity="0.50"/>
<rect x="54" y="263" width="9" height="5" fill="#e7e7e7" opacity="0.39"/>
<rect x="710" y="139" width="14" height="9" fill="#f9f9f9" opacity="0.50"/>
<rect x="434" y="634" width="5" height="5" fill="#e7e7e7" opacity="0.64"/>
<rect x="676" y="549" width="16" height="9" fill="#e7e7e7" opacity="0.61"/>
<rect x="22" y="189" width="9" height="5" fill="#e7e7e7" opacity="0.38"/>
<rect x="336" y="584" width="4" height="3" fill="#e7e7e7" opacity="0.60"/>
<rect x="540" y="620" width="16" height="5" fill="#dedede" opacity="0.32"/>
<rect x="430" y="484" width="5" height="10" fill="#e3e3e3" opacity="0.37"/>
<rect x="472" y="593" width="14" height="11" fill="#f9f9f9" opacity="0.41"/>
<rect x="357" y="430" width="20" height="3" fill="#e7e7e7" opacity="0.36"/>
<rect x="68" y="428" width="20" height="10" fill="#fdfdfd" opacity="0.65"/>
<rect x="645" y="114" width="11" height="11" fill="#e7e7e7" opacity="0.50"/>
<rect x="448" y="492" width="22" height="4" fill="#e7e7e7" opacity="0.35"/>
<rect x="397" y="554" width="4" height="5" fill="#e7e7e7" opacity="0.58"/>
<rect x="436" y="398" width="12" height="8" fill="#dedede" opacity="0.50"/>
<rect x="604" y="356" width="8" height="9" fill="#e3e3e3" opacity="0.57"/>
<rect x="723" y="342" width="10" height="10" fill="#e7e7e7" opacity="0.43"/>
<rect x="190" y="401" width="14" height="5" fill="#e3e3e3" opacity="0.53"/>
<rect x="723" y="223" width="18" height="6" fill="#e3e3e3" opacity="0.63"/>
<rect x="401" y="211" width="15" height="4" fill="#f9f9f9" opacity="0.39"/>
<rect x="663" y="566" width="15" height="10" fill="#f9f9f9" opacity="0.48"/>
<rect x="329" y="561" width="10" height="9" fill="#f9f9f9" opacity="0.52"/>
<rect x="343" y="273" width="10" height="10" fill="#e3e3e3" opacity="0.34"/>
<rect x="474" y="318" width="17" height="4" fill="#e7e7e7" opacity="0.32"/>
<rect x="676" y="609" width="14" height="7" fill="#f9f9f9" opacity="0.31"/>
<rect x="184" y="290" width="4" height="9" fill="#e7e7e7" opacity="0.57"/>
<rect x="729" y="217" width="16" height="6" fill="#dedede" opacity="0.58"/>
<rect x="568" y="609" width="13" height="11" fill="#f9f9f9" opacity="0.59"/>
<rect x="362" y="580" width="9" height="6" fill="#f9f9f9" opacity="0.41"/>
<rect x="160" y="128" width="15" height="12" fill="#f9f9f9" opacity="0.60"/>
<rect x="567" y="338" width="17" height="3" fill="#fdfdfd" opacity="0.60"/>
<rect x="23" y="160" width="22" height="6" fill="#e3e3e3" opacity="0.35"/>
<rect x="263" y="504" width="9" height="8" fill="#fdfdfd" opacity="0.54"/>
<rect x="683" y="486" width="6" height="6" fill="#e7e7e7" opacity="0.64"/>
<rect x="591" y="472" width="5" height="5" fill="#e3e3e3" opacity="0.35"/>
<rect x="514" y="491" width="15" height="8" fill="#e3e3e3" opacity="0.65"/>
<rect x="93" y="360" width="10" height="11" fill="#f9f9f9" opacity="0.48"/>
<rect x="405" y="442" width="4" height="5" fill="#dedede" opacity="0.48"/>
<rect x="371" y="595" width="6" height="6" fill="#e7e7e7" opacity="0.64"/>
<rect x="167" y="139" width="19" height="12" fill="#f9f9f9" opacity="0.31"/>
<rect x="149" y="126" width="9" height="12" fill="#dedede" opacity="0.63"/>
<rect x="35" y="345" width="9" height="6" fill="#e7e7e7" opacity="0.49"/>
<rect x="641" y="483" width="16" height="12" fill="#fdfdfd" opacity="0.45"/>
<rect x="115" y="510" width="14" height="6" fill="#fdfdfd" opacity="0.58"/>
<rect x="178" y="369" width="20" height="9" fill="#e7e7e7" opacity="0.54"/>
<rect x="605" y="454" width="17" height="12" fill="#e3e3e3" opacity="0.60"/>
<rect x="41" y="471" width="18" height="11" fill="#e7e7e7" opacity="0.54"/>
<rect x="338" y="410" width="12" height="9" fill="#fdfdfd" opacity="0.56"/>
<rect x="434" y="635" width="19" height="8" fill="#f9f9f9" opacity="0.59"/>
<rect x="263" y="134" width="18" height="11" fill="#dedede" opacity="0.39"/>
<rect x="57" y="526" width="16" height="10" fill="#f9f9f9" opacity="0.62"/>
<rect x="616" y="563" width="18" height="5" fill="#e7e7e7" opacity="0.48"/>
<rect x="109" y="601" width="13" height="5" fill="#dedede" opacity="0.43"/>
<rect x="274" y="464" width="8" height="5" fill="#f9f9f9" opacity="0.59"/>
<rect x="610" y="579" width="12" height="9" fill="#e3e3e3" opacity="0.41"/>
<rect x="319" y="319" width="11" height="11" fill="#e7e7e7" opacity="0.43"/>
<rect x="388" y="262" width="11" height="9" fill="#e3e3e3" opacity="0.40"/>
<rect x="87" y="441" width="9" height="7" fill="#f9f9f9" opacity="0.57"/>
<rect x="276" y="379" width="7" height="9" fill="#f9f9f9" opacity="0.52"/>
<rect x="190" y="397" width="13" height="10" fill="#e3e3e3" opacity="0.50"/>
<rect x="536" y="248" width="5" height="5" fill="#e7e7e7" opacity="0.39"/>
<rect x="391" y="365" width="9" height="7" fill="#e3e3e3" opacity="0.37"/>
<rect x="458" y="299" width="12" height="10" fill="#e3e3e3" opacity="0.55"/>
<rect x="557" y="625" width="11" height="3" fill="#fdfdfd" opacity="0.53"/>
<rect x="285" y="412" width="19" height="6" fill="#dedede" opacity="0.37"/>
<rect x="274" y="456" width="21" height="9" fill="#e7e7e7" opacity="0.60"/>
<rect x="295" y="323" width="5" height="7" fill="#e3e3e3" opacity="0.34"/>
<rect x="517" y="333" width="14" height="11" fill="#fdfdfd" opacity="0.36"/>
<rect x="105" y="505" width="5" height="7" fill="#e3e3e3" opacity="0.53"/>
<rect x="34" y="466" width="17" height="7" fill="#dedede" opacity="0.42"/>
<rect x="71" y="556" width="11" height="7" fill="#dedede" opacity="0.59"/>
<rect x="561" y="405" width="6" height="4" fill="#e3e3e3" opacity="0.59"/>
<rect x="641" y="397" width="8" height="6" fill="#fdfdfd" opacity="0.60"/>
<rect x="42" y="437" width="7" height="7" fill="#e7e7e7" opacity="0.42"/>
<rect x="727" y="249" width="13" height="3" fill="#e7e7e7" opacity="0.33"/>
<rect x="224" y="312" width="11" height="9" fill="#fdfdfd" opacity="0.54"/>
<rect x="284" y="335" width="10" height="5" fill="#dedede" opacity="0.39"/>
<rect x="400" y="302" width="8" height="3" fill="#fdfdfd" opacity="0.53"/>
<rect x="682" y="285" width="17" height="4" fill="#fdfdfd" opacity="0.62"/>
<rect x="234" y="389" width="14" height="3" fill="#fdfdfd" opacity="0.63"/>
<rect x="164" y="338" width="19" height="3" fill="#f9f9f9" opacity="0.55"/>
<rect x="335" y="602" width="18" height="8" fill="#fdfdfd" opacity="0.37"/>
<rect x="637" y="167" width="8" height="5" fill="#f9f9f9" opacity="0.60"/>
<rect x="138" y="595" width="5" height="8" fill="#dedede" opacity="0.56"/>
<rect x="536" y="504" width="7" height="5" fill="#f9f9f9" opacity="0.49"/>
<rect x="532" y="376" width="7" height="10" fill="#fdfdfd" opacity="0.33"/>
<rect x="306" y="451" width="18" height="12" fill="#e7e7e7" opacity="0.55"/>
<rect x="641" y="597" width="12" height="7" fill="#f9f9f9" opacity="0.31"/>
<rect x="174" y="414" width="19" height="6" fill="#e7e7e7" opacity="0.55"/>
<rect x="193" y="396" width="17" height="6" fill="#f9f9f9" opacity="0.35"/>
<rect x="289" y="118" width="18" height="12" fill="#fdfdfd" opacity="0.35"/>
<rect x="515" y="206" width="9" height="9" fill="#f9f9f9" opacity="0.55"/>
<rect x="89" y="544" width="12" height="9" fill="#e3e3e3" opacity="0.53"/>
<rect x="391" y="139" width="8" height="9" fill="#fdfdfd" opacity="0.42"/>
<rect x="681" y="150" width="18" height="7" fill="#fdfdfd" opacity="0.40"/>
<rect x="560" y="208" width="9" height="8" fill="#fdfdfd" opacity="0.39"/>
<rect x="169" y="594" width="20" height="11" fill="#e3e3e3" opacity="0.50"/>
<rect x="148" y="182" width="6" height="3" fill="#e7e7e7" opacity="0.32"/>
<rect x="187" y="499" width="10" height="7" fill="#f9f9f9" opacity="0.34"/>
<rect x="530" y="343" width="19" height="10" fill="#dedede" opacity="0.34"/>
<rect x="31" y="121" width="7" height="7" fill="#dedede" opacity="0.33"/>
<rect x="426" y="291" width="16" height="4" fill="#e7e7e7" opacity="0.55"/>
<rect x="487" y="149" width="17" height="6" fill="#e3e3e3" opacity="0.59"/>
<rect x="113" y="151" width="20" height="7" fill="#f9f9f9" opacity="0.34"/>
<rect x="91" y="351" width="13" height="8" fill="#f9f9f9" opacity="0.50"/>
<rect x="707" y="253" width="5" height="5" fill="#dedede" opacity="0.37"/>
<rect x="648" y="371" width="6" height="5" fill="#e3e3e3" opacity="0.31"/>
<rect x="577" y="407" width="21" height="7" fill="#f9f9f9" opacity="0.33"/>
<rect x="741" y="327" width="7" height="11" fill="#dedede" opacity="0.48"/>
<rect x="67" y="409" width="9" height="11" fill="#f9f9f9" opacity="0.39"/>
<rect x="600" y="541" width="18" height="8" fill="#e3e3e3" opacity="0.51"/>
<rect x="452" y="475" width="22" height="3" fill="#e7e7e7" opacity="0.42"/>
<rect x="673" y="106" width="19" height="7" fill="#fdfdfd" opacity="0.58"/>
<rect x="114" y="374" width="5" height="10" fill="#f9f9f9" opacity="0.35"/>
<rect x="150" y="219" width="10" height="4" fill="#e7e7e7" opacity="0.55"/>
<rect x="656" y="120" width="5" height="3" fill="#dedede" opacity="0.57"/>
<rect x="466" y="207" width="20" height="10" fill="#e3e3e3" opacity="0.60"/>
<rect x="526" y="289" width="18" height="4" fill="#f9f9f9" opacity="0.58"/>
<rect x="368" y="239" width="13" height="10" fill="#e7e7e7" opacity="0.62"/>
<rect x="588" y="416" width="17" height="10" fill="#fdfdfd" opacity="0.44"/>
<rect x="379" y="499" width="16" height="11" fill="#dedede" opacity="0.49"/>
<rect x="705" y="526" width="21" height="4" fill="#e7e7e7" opacity="0.56"/>
<rect x="431" y="403" width="19" height="5" fill="#fdfdfd" opacity="0.50"/>
<rect x="41" y="454" width="21" height="11" fill="#fdfdfd" opacity="0.58"/>
<rect x="606" y="317" width="16" height="11" fill="#e3e3e3" opacity="0.38"/>
<rect x="488" y="584" width="16" height="10" fill="#fdfdfd" opacity="0.58"/>
<rect x="17" y="159" width="4" height="7" fill="#fdfdfd" opacity="0.45"/>
<rect x="250" y="215" width="15" height="7" fill="#e7e7e7" opacity="0.44"/>
<rect x="251" y="638" width="12" height="3" fill="#f9f9f9" opacity="0.55"/>
<rect x="596" y="165" width="12" height="9" fill="#e3e3e3" opacity="0.43"/>
<rect x="246" y="181" width="20" height="7" fill="#f9f9f9" opacity="0.38"/>
<rect x="652" y="312" width="20" height="8" fill="#fdfdfd" opacity="0.41"/>
<rect x="444" y="558" width="20" height="10" fill="#f9f9f9" opacity="0.44"/>
<rect x="82" y="231" width="4" height="11" fill="#dedede" opacity="0.58"/>
<rect x="79" y="398" width="9" height="6" fill="#dedede" opacity="0.53"/>
<rect x="192" y="323" width="6" height="10" fill="#dedede" opacity="0.52"/>
<rect x="270" y="453" width="12" height="12" fill="#fdfdfd" opacity="0.63"/>
<rect x="480" y="367" width="19" height="4" fill="#e3e3e3" opacity="0.32"/>
<rect x="409" y="340" width="19" height="9" fill="#dedede" opacity="0.61"/>
<rect x="31" y="274" width="17" height="10" fill="#f9f9f9" opacity="0.30"/>
<rect x="141" y="595" width="21" height="5" fill="#dedede" opacity="0.32"/>
<rect x="475" y="250" width="11" height="10" fill="#f9f9f9" opacity="0.40"/>
<rect x="719" y="449" width="14" height="7" fill="#fdfdfd" opacity="0.47"/>
<rect x="657" y="275" width="22" height="6" fill="#dedede" opacity="0.47"/>
<rect x="666" y="208" width="5" height="8" fill="#e3e3e3" opacity="0.36"/>
<rect x="232" y="129" width="17" height="5" fill="#e7e7e7" opacity="0.64"/>
<rect x="509" y="247" width="18" height="6" fill="#fdfdfd" opacity="0.37"/>
<rect x="85" y="240" width="10" height="7" fill="#fdfdfd" opacity="0.41"/>
<rect x="87" y="598" width="18" height="7" fill="#dedede" opacity="0.46"/>
<rect x="569" y="269" width="19" height="9" fill="#f9f9f9" opacity="0.40"/>
<rect x="624" y="321" width="14" height="9" fill="#e3e3e3" opacity="0.40"/>
<rect x="393" y="254" width="11" height="11" fill="#e3e3e3" opacity="0.39"/>
<rect x="605" y="407" width="18" height="3" fill="#e7e7e7" opacity="0.51"/>
<rect x="655" y="567" width="10" height="12" fill="#e3e3e3" opacity="0.56"/>
<rect x="593" y="160" width="16" height="7" fill="#e7e7e7" opacity="0.36"/>
<rect x="552" y="163" width="7" height="10" fill="#fdfdfd" opacity="0.44"/>
<rect x="252" y="310" width="21" height="10" fill="#e7e7e7" opacity="0.42"/>
<rect x="397" y="378" width="7" height="11" fill="#e7e7e7" opacity="0.35"/>
<rect x="308" y="372" width="10" height="4" fill="#dedede" opacity="0.53"/>
<rect x="424" y="247" width="14" height="7" fill="#f9f9f9" opacity="0.35"/>
<rect x="369" y="581" width="16" height="10" fill="#e3e3e3" opacity="0.56"/>
<rect x="642" y="170" width="19" height="9" fill="#fdfdfd" opacity="0.51"/>
<rect x="448" y="546" width="9" height="4" fill="#e7e7e7" opacity="0.51"/>
<rect x="265" y="407" width="20" height="6" fill="#e3e3e3" opacity="0.43"/>
<rect x="615" y="276" width="17" height="4" fill="#e3e3e3" opacity="0.46"/>
<rect x="371" y="626" width="18" height="7" fill="#dedede" opacity="0.49"/>
<rect x="605" y="160" width="19" height="3" fill="#f9f9f9" opacity="0.40"/>
<rect x="389" y="223" width="21" height="12" fill="#dedede" opacity="0.58"/>
<rect x="600" y="387" width="8" height="11" fill="#e3e3e3" opacity="0.38"/>
<rect x="203" y="300" width="7" height="10" fill="#e7e7e7" opacity="0.55"/>
<rect x="379" y="417" width="15" height="7" fill="#f9f9f9" opacity="0.53"/>
<rect x="274" y="388" width="20" height="3" fill="#e7e7e7" opacity="0.32"/>
<rect x="337" y="469" width="13" height="4" fill="#dedede" opacity="0.46"/>
<rect x="301" y="253" width="10" height="5" fill="#f9f9f9" opacity="0.33"/>
<rect x="568" y="528" width="20" height="3" fill="#f9f9f9" opacity="0.57"/>
<rect x="622" y="259" width="8" height="10" fill="#e3e3e3" opacity="0.62"/>
<rect x="51" y="210" width="17" height="9" fill="#e3e3e3" opacity="0.59"/>
<rect x="397" y="399" width="16" height="10" fill="#f9f9f9" opacity="0.50"/>
<rect x="82" y="498" width="10" height="6" fill="#e7e7e7" opacity="0.45"/>
<rect x="576" y="284" width="5" height="9" fill="#f9f9f9" opacity="0.43"/>
<rect x="65" y="282" width="20" height="7" fill="#e7e7e7" opacity="0.47"/>
<rect x="84" y="405" width="19" height="4" fill="#dedede" opacity="0.44"/>
<rect x="693" y="204" width="10" height="9" fill="#e7e7e7" opacity="0.63"/>
<rect x="534" y="307" width="22" height="7" fill="#fdfdfd" opacity="0.35"/>
<rect x="438" y="305" width="4" height="5" fill="#e3e3e3" opacity="0.58"/>
<rect x="569" y="210" width="22" height="4" fill="#dedede" opacity="0.49"/>
<rect x="466" y="577" width="5" height="6" fill="#fdfdfd" opacity="0.57"/>
<rect x="153" y="292" width="20" height="3" fill="#e3e3e3" opacity="0.33"/>
<rect x="324" y="405" width="20" height="12" fill="#fdfdfd" opacity="0.57"/>
<rect x="634" y="190" width="14" height="9" fill="#f9f9f9" opacity="0.55"/>
<rect x="448" y="163" width="12" height="11" fill="#fdfdfd" opacity="0.51"/>
<rect x="734" y="223" width="5" height="5" fill="#fdfdfd" opacity="0.50"/>
<rect x="542" y="450" width="17" height="5" fill="#f9f9f9" opacity="0.33"/>
<rect x="32" y="126" width="22" height="10" fill="#f9f9f9" opacity="0.63"/>
<rect x="37" y="398" width="21" height="10" fill="#dedede" opacity="0.62"/>
<rect x="18" y="509" width="9" height="4" fill="#e3e3e3" opacity="0.57"/>
<rect x="109" y="386" width="20" height="4" fill="#dedede" opacity="0.48"/>
<rect x="662" y="590" width="6" height="10" fill="#e3e3e3" opacity="0.33"/>
<rect x="68" y="401" width="5" height="9" fill="#dedede" opacity="0.51"/>
<rect x="44" y="395" width="18" height="4" fill="#e7e7e7" opacity="0.46"/>
<rect x="157" y="201" width="16" height="8" fill="#dedede" opacity="0.58"/>
<rect x="481" y="212" width="12" height="4" fill="#fdfdfd" opacity="0.64"/>
<rect x="384" y="467" width="15" height="4" fill="#e3e3e3" opacity="0.56"/>
<rect x="78" y="296" width="19" height="11" fill="#e7e7e7" opacity="0.41"/>
<rect x="428" y="280" width="9" height="7" fill="#f9f9f9" opacity="0.30"/>
<rect x="516" y="424" width="5" height="4" fill="#dedede" opacity="0.43"/>
<rect x="420" y="213" width="22" height="11" fill="#e3e3e3" opacity="0.62"/>
<rect x="27" y="465" width="19" height="9" fill="#fdfdfd" opacity="0.58"/>
<rect x="222" y="237" width="5" height="9" fill="#f9f9f9" opacity="0.39"/>
<rect x="243" y="151" width="9" height="6" fill="#fdfdfd" opacity="0.36"/>
<rect x="347" y="434" width="21" height="9" fill="#e7e7e7" opacity="0.40"/>
<rect x="20" y="224" width="8" height="7" fill="#e7e7e7" opacity="0.62"/>
<rect x="574" y="576" width="10" height="10" fill="#e3e3e3" opacity="0.49"/>
<rect x="237" y="435" width="6" height="10" fill="#e7e7e7" opacity="0.32"/>
<rect x="161" y="129" width="6" height="7" fill="#dedede" opacity="0.39"/>
<rect x="380" y="514" width="21" height="11" fill="#e3e3e3" opacity="0.53"/>
<rect x="657" y="482" width="8" height="10" fill="#fdfdfd" opacity="0.55"/>
<rect x="321" y="471" width="22" height="5" fill="#e7e7e7" opacity="0.56"/>
<rect x="25" y="473" width="8" height="5" fill="#f9f9f9" opacity="0.52"/>
<rect x="545" y="176" width="15" height="9" fill="#e3e3e3" opacity="0.51"/>
<rect x="52" y="136" width="17" height="6" fill="#e3e3e3" opacity="0.33"/>
<rect x="539" y="448" width="5" height="8" fill="#dedede" opacity="0.54"/>
<rect x="136" y="154" width="9" height="10" fill="#e7e7e7" opacity="0.44"/>
<rect x="725" y="575" width="17" height="5" fill="#fdfdfd" opacity="0.42"/>
<rect x="606" y="223" width="19" height="3" fill="#f9f9f9" opacity="0.58"/>
<rect x="12" y="202" width="16" height="5" fill="#e3e3e3" opacity="0.36"/>
<rect x="486" y="197" width="16" height="8" fill="#f9f9f9" opacity="0.47"/>
<rect x="189" y="148" width="19" height="4" fill="#dedede" opacity="0.38"/>
<rect x="635" y="170" width="5" height="3" fill="#e7e7e7" opacity="0.43"/>
<rect x="578" y="236" width="17" height="4" fill="#e7e7e7" opacity="0.36"/>
<rect x="667" y="189" width="16" height="11" fill="#fdfdfd" opacity="0.63"/>
<rect x="661" y="509" width="5" height="9" fill="#e7e7e7" opacity="0.38"/>
<rect x="10" y="154" width="20" height="5" fill="#fdfdfd" opacity="0.59"/>
<rect x="328" y="163" width="8" height="3" fill="#fdfdfd" opacity="0.49"/>
<rect x="360" y="597" width="13" height="7" fill="#f9f9f9" opacity="0.45"/>
<rect x="202" y="340" width="5" height="5" fill="#f9f9f9" opacity="0.63"/>
<rect x="167" y="503" width="14" height="4" fill="#dedede" opacity="0.51"/>
<rect x="277" y="132" width="22" height="11" fill="#fdfdfd" opacity="0.48"/>
<rect x="641" y="215" width="8" height="5" fill="#e3e3e3" opacity="0.47"/>
<rect x="579" y="170" width="12" height="12" fill="#fdfdfd" opacity="0.52"/>
<rect x="588" y="137" width="6" height="6" fill="#fdfdfd" opacity="0.47"/>
<rect x="486" y="379" width="7" height="3" fill="#e3e3e3" opacity="0.53"/>
<rect x="477" y="519" width="16" height="3" fill="#dedede" opacity="0.35"/>
<rect x="656" y="273" width="11" height="6" fill="#e3e3e3" opacity="0.60"/>
<rect x="138" y="221" width="11" height="11" fill="#dedede" opacity="0.46"/>
<rect x="623" y="253" width="17" height="7" fill="#f9f9f9" opacity="0.59"/>
<rect x="151" y="136" width="9" height="6" fill="#e3e3e3" opacity="0.54"/>
<rect x="177" y="354" width="4" height="12" fill="#dedede" opacity="0.60"/>
<rect x="159" y="586" width="17" height="9" fill="#f9f9f9" opacity="0.59"/>
<rect x="341" y="221" width="8" height="12" fill="#e7e7e7" opacity="0.31"/>
<rect x="527" y="406" width="7" height="7" fill="#f9f9f9" opacity="0.38"/>
<rect x="593" y="428" width="19" height="4" fill="#fdfdfd" opacity="0.50"/>
<rect x="180" y="165" width="17" height="4" fill="#fdfdfd" opacity="0.35"/>
<rect x="434" y="576" width="6" height="8" fill="#e3e3e3" opacity="0.36"/>
<rect x="605" y="528" width="12" height="4" fill="#e7e7e7" opacity="0.61"/>
<rect x="702" y="244" width="16" height="11" fill="#fdfdfd" opacity="0.33"/>
<rect x="713" y="583" width="12" height="10" fill="#e3e3e3" opacity="0.40"/>
<rect x="309" y="383" width="21" height="11" fill="#e7e7e7" opacity="0.58"/>
<rect x="90" y="231" width="16" height="8" fill="#dedede" opacity="0.51"/>
<rect x="703" y="203" width="18" height="11" fill="#e3e3e3" opacity="0.51"/>
<rect x="637" y="615" width="9" height="6" fill="#f9f9f9" opacity="0.44"/>
<rect x="599" y="478" width="21" height="5" fill="#e3e3e3" opacity="0.52"/>
<rect x="590" y="105" width="12" height="9" fill="#fdfdfd" opacity="0.42"/>
<rect x="651" y="348" width="18" height="12" fill="#e7e7e7" opacity="0.57"/>
<rect x="710" y="211" width="8" height="7" fill="#fdfdfd" opacity="0.44"/>
<rect x="279" y="479" width="6" height="10" fill="#fdfdfd" opacity="0.53"/>
<rect x="167" y="216" width="18" height="4" fill="#e7e7e7" opacity="0.34"/>
<rect x="455" y="445" width="13" height="11" fill="#fdfdfd" opacity="0.50"/>
<rect x="262" y="478" width="21" height="8" fill="#fdfdfd" opacity="0.41"/>
<rect x="496" y="518" width="19" height="9" fill="#fdfdfd" opacity="0.43"/>
<rect x="609" y="444" width="21" height="10" fill="#f9f9f9" opacity="0.55"/>
<rect x="559" y="263" width="21" height="5" fill="#e7e7e7" opacity="0.36"/>
<rect x="497" y="512" width="5" height="7" fill="#e3e3e3" opacity="0.37"/>
<rect x="542" y="246" width="4" height="8" fill="#e3e3e3" opacity="0.58"/>
<rect x="185" y="194" width="19" height="4" fill="#f9f9f9" opacity="0.39"/>
<rect x="19" y="161" width="17" height="12" fill="#e3e3e3" opacity="0.64"/>
<rect x="390" y="273" width="7" height="6" fill="#fdfdfd" opacity="0.56"/>
<rect x="677" y="242" width="20" height="6" fill="#e7e7e7" opacity="0.33"/>
<rect x="197" y="524" width="15" height="9" fill="#e7e7e7" opacity="0.42"/>
<rect x="684" y="403" width="13" height="5" fill="#e3e3e3" opacity="0.56"/>
<rect x="219" y="109" width="19" height="7" fill="#e7e7e7" opacity="0.58"/>
<rect x="430" y="204" width="18" height="4" fill="#fdfdfd" opacity="0.58"/>
<rect x="73" y="458" width="18" height="5" fill="#dedede" opacity="0.45"/>
<rect x="165" y="548" width="4" height="11" fill="#fdfdfd" opacity="0.38"/>
<rect x="397" y="490" width="9" height="7" fill="#e3e3e3" opacity="0.38"/>
<rect x="161" y="486" width="4" height="8" fill="#fdfdfd" opacity="0.52"/>
<rect x="230" y="458" width="20" height="5" fill="#e7e7e7" opacity="0.35"/>
<rect x="255" y="479" width="5" height="7" fill="#e7e7e7" opacity="0.44"/>
<rect x="571" y="270" width="13" height="6" fill="#e7e7e7" opacity="0.32"/>
<rect x="686" y="574" width="13" height="4" fill="#fdfdfd" opacity="0.31"/>
<rect x="532" y="565" width="10" height="10" fill="#fdfdfd" opacity="0.49"/>
<rect x="56" y="309" width="18" height="4" fill="#fdfdfd" opacity="0.32"/>
<rect x="331" y="558" width="18" height="8" fill="#fdfdfd" opacity="0.57"/>
<rect x="685" y="602" width="11" height="7" fill="#dedede" opacity="0.32"/>
<rect x="675" y="172" width="18" height="4" fill="#dedede" opacity="0.35"/>
<rect x="224" y="137" width="12" height="9" fill="#e7e7e7" opacity="0.45"/>
<rect x="74" y="619" width="6" height="7" fill="#e3e3e3" opacity="0.31"/>
<rect x="389" y="475" width="20" height="9" fill="#e7e7e7" opacity="0.36"/>
<rect x="129" y="193" width="14" height="10" fill="#fdfdfd" opacity="0.55"/>
<rect x="341" y="395" width="11" height="11" fill="#e3e3e3" opacity="0.39"/>
<rect x="662" y="352" width="17" height="11" fill="#f9f9f9" opacity="0.51"/>
<rect x="531" y="495" width="9" height="7" fill="#f9f9f9" opacity="0.56"/>
<rect x="633" y="376" width="20" height="7" fill="#f9f9f9" opacity="0.31"/>
<rect x="513" y="622" width="13" height="10" fill="#dedede" opacity="0.41"/>
<rect x="257" y="200" width="7" height="10" fill="#fdfdfd" opacity="0.32"/>
<rect x="259" y="525" width="4" height="5" fill="#e7e7e7" opacity="0.51"/>
<rect x="242" y="553" width="20" height="12" fill="#e7e7e7" opacity="0.63"/>
<rect x="295" y="252" width="9" height="9" fill="#f9f9f9" opacity="0.30"/>
<rect x="565" y="403" width="16" height="10" fill="#f9f9f9" opacity="0.59"/>
<rect x="653" y="193" width="16" height="3" fill="#f9f9f9" opacity="0.58"/>
<rect x="285" y="550" width="9" height="9" fill="#f9f9f9" opacity="0.38"/>
<rect x="45" y="580" width="17" height="9" fill="#f9f9f9" opacity="0.60"/>
<rect x="684" y="502" width="20" height="4" fill="#dedede" opacity="0.53"/>
<rect x="410" y="343" width="5" height="11" fill="#e7e7e7" opacity="0.46"/>
<rect x="618" y="490" width="12" height="10" fill="#e7e7e7" opacity="0.39"/>
<rect x="24" y="529" width="6" height="6" fill="#f9f9f9" opacity="0.43"/>
<rect x="43" y="562" width="15" height="7" fill="#fdfdfd" opacity="0.41"/>
<rect x="472" y="578" width="13" height="6" fill="#dedede" opacity="0.46"/>
<rect x="230" y="568" width="20" height="10" fill="#dedede" opacity="0.62"/>
<rect x="658" y="136" width="15" height="12" fill="#fdfdfd" opacity="0.45"/>
<rect x="156" y="294" width="20" height="9" fill="#e7e7e7" opacity="0.62"/>
<rect x="482" y="404" width="16" height="11" fill="#fdfdfd" opacity="0.51"/>
<rect x="319" y="149" width="12" height="9" fill="#dedede" opacity="0.40"/>
<rect x="79" y="525" width="13" height="10" fill="#dedede" opacity="0.58"/>
<rect x="735" y="331" width="8" height="11" fill="#fdfdfd" opacity="0.52"/>
<rect x="247" y="634" width="5" height="7" fill="#dedede" opacity="0.56"/>
<rect x="374" y="459" width="7" height="8" fill="#f9f9f9" opacity="0.51"/>
<rect x="665" y="188" width="11" height="10" fill="#e3e3e3" opacity="0.62"/>
<rect x="639" y="294" width="14" height="10" fill="#e3e3e3" opacity="0.37"/>
<rect x="670" y="584" width="4" height="8" fill="#f9f9f9" opacity="0.48"/>
<rect x="109" y="439" width="21" height="8" fill="#e3e3e3" opacity="0.45"/>
<rect x="206" y="327" width="15" height="5" fill="#dedede" opacity="0.52"/>
<rect x="598" y="583" width="5" height="10" fill="#f9f9f9" opacity="0.56"/>
<rect x="385" y="195" width="8" height="5" fill="#dedede" opacity="0.36"/>
<rect x="528" y="159" width="20" height="12" fill="#fdfdfd" opacity="0.55"/>
<rect x="615" y="599" width="17" height="5" fill="#e3e3e3" opacity="0.47"/>
<rect x="648" y="580" width="4" height="11" fill="#dedede" opacity="0.54"/>
<rect x="476" y="637" width="7" height="7" fill="#e7e7e7" opacity="0.44"/>
<rect x="171" y="563" width="17" height="12" fill="#e7e7e7" opacity="0.52"/>
<rect x="166" y="146" width="9" height="4" fill="#f9f9f9" opacity="0.51"/>
<rect x="313" y="553" width="6" height="6" fill="#dedede" opacity="0.47"/>
<rect x="148" y="418" width="21" height="7" fill="#f9f9f9" opacity="0.48"/>
<rect x="287" y="138" width="8" height="6" fill="#e3e3e3" opacity="0.42"/>
<rect x="511" y="311" width="12" height="6" fill="#f9f9f9" opacity="0.46"/>
<rect x="35" y="521" width="19" height="8" fill="#fdfdfd" opacity="0.42"/>
<rect x="298" y="331" width="15" height="11" fill="#e7e7e7" opacity="0.35"/>
<rect x="8" y="467" width="16" height="10" fill="#e7e7e7" opacity="0.54"/>
<rect x="424" y="218" width="11" height="6" fill="#f9f9f9" opacity="0.49"/>
<rect x="90" y="585" width="11" height="5" fill="#e3e3e3" opacity="0.52"/>
<rect x="204" y="381" width="19" height="7" fill="#e3e3e3" opacity="0.42"/>
<rect x="472" y="354" width="14" height="11" fill="#e7e7e7" opacity="0.39"/>
<rect x="630" y="109" width="15" height="8" fill="#fdfdfd" opacity="0.32"/>
<rect x="14" y="578" width="19" height="9" fill="#e7e7e7" opacity="0.59"/>
<rect x="21" y="203" width="7" height="9" fill="#e3e3e3" opacity="0.56"/>
<rect x="167" y="335" width="7" height="6" fill="#e3e3e3" opacity="0.56"/>
<rect x="693" y="394" width="17" height="11" fill="#e3e3e3" opacity="0.57"/>
<rect x="34" y="366" width="7" height="11" fill="#fdfdfd" opacity="0.45"/>
<rect x="136" y="168" width="15" height="9" fill="#e7e7e7" opacity="0.31"/>
<rect x="21" y="483" width="5" height="4" fill="#f9f9f9" opacity="0.34"/>
<rect x="454" y="463" width="7" height="5" fill="#f9f9f9" opacity="0.43"/>
<rect x="287" y="236" width="22" height="7" fill="#f9f9f9" opacity="0.47"/>
<rect x="671" y="189" width="4" height="9" fill="#f9f9f9" opacity="0.58"/>
<rect x="330" y="434" width="15" height="9" fill="#e3e3e3" opacity="0.57"/>
<rect x="15" y="334" width="14" height="11" fill="#e3e3e3" opacity="0.51"/>
<rect x="697" y="563" width="10" height="7" fill="#dedede" opacity="0.48"/>
<rect x="120" y="446" width="13" height="9" fill="#dedede" opacity="0.58"/>
<rect x="9" y="529" width="18" height="8" fill="#fdfdfd" opacity="0.55"/>
<rect x="493" y="280" width="7" height="6" fill="#fdfdfd" opacity="0.63"/>
<rect x="234" y="302" width="21" height="9" fill="#e7e7e7" opacity="0.65"/>
<rect x="457" y="102" width="8" height="9" fill="#dedede" opacity="0.54"/>
<rect x="198" y="427" width="10" height="10" fill="#f9f9f9" opacity="0.50"/>
<rect x="632" y="627" width="14" height="12" fill="#fdfdfd" opacity="0.63"/>
<rect x="558" y="410" width="18" height="4" fill="#e7e7e7" opacity="0.51"/>
<rect x="69" y="515" width="12" height="11" fill="#e3e3e3" opacity="0.43"/>
<rect x="320" y="574" width="20" height="8" fill="#e7e7e7" opacity="0.33"/>
<rect x="31" y="549" width="12" height="6" fill="#e7e7e7" opacity="0.38"/>
<rect x="275" y="596" width="16" height="6" fill="#dedede" opacity="0.65"/>
<rect x="597" y="507" width="12" height="8" fill="#fdfdfd" opacity="0.53"/>
<rect x="517" y="614" width="10" height="9" fill="#e3e3e3" opacity="0.56"/>
<rect x="44" y="630" width="7" height="9" fill="#dedede" opacity="0.56"/>
<rect x="621" y="562" width="21" height="6" fill="#e7e7e7" opacity="0.59"/>
<rect x="69" y="558" width="5" height="7" fill="#e3e3e3" opacity="0.38"/>
<rect x="64" y="255" width="15" height="11" fill="#dedede" opacity="0.36"/>
<rect x="94" y="199" width="6" height="10" fill="#dedede" opacity="0.39"/>
<rect x="169" y="558" width="7" height="11" fill="#f9f9f9" opacity="0.39"/>
<rect x="661" y="431" width="20" height="5" fill="#e3e3e3" opacity="0.52"/>
<rect x="329" y="153" width="14" height="11" fill="#fdfdfd" opacity="0.58"/>
<rect x="174" y="348" width="16" height="10" fill="#dedede" opacity="0.64"/>
<rect x="500" y="400" width="21" height="4" fill="#fdfdfd" opacity="0.61"/>
<rect x="345" y="598" width="20" height="11" fill="#dedede" opacity="0.43"/>
<rect x="435" y="187" width="14" height="10" fill="#e3e3e3" opacity="0.43"/>
<rect x="106" y="410" width="21" height="12" fill="#e7e7e7" opacity="0.43"/>
<rect x="26" y="210" width="14" height="6" fill="#e3e3e3" opacity="0.63"/>
<rect x="574" y="605" width="12" height="6" fill="#e7e7e7" opacity="0.47"/>
<rect x="698" y="459" width="21" height="5" fill="#f9f9f9" opacity="0.43"/>
<rect x="712" y="232" width="15" height="6" fill="#dedede" opacity="0.32"/>
<rect x="157" y="373" width="4" height="8" fill="#e3e3e3" opacity="0.56"/>
<rect x="216" y="154" width="8" height="4" fill="#f9f9f9" opacity="0.54"/>
<rect x="41" y="331" width="17" height="3" fill="#e7e7e7" opacity="0.41"/>
<rect x="308" y="589" width="14" height="3" fill="#dedede" opacity="0.49"/>
<rect x="733" y="586" width="7" height="8" fill="#f9f9f9" opacity="0.34"/>
<rect x="642" y="378" width="21" height="5" fill="#e7e7e7" opacity="0.54"/>
<rect x="25" y="418" width="11" height="12" fill="#fdfdfd" opacity="0.34"/>
<rect x="112" y="297" width="17" height="5" fill="#e3e3e3" opacity="0.63"/>
<rect x="455" y="448" width="22" height="12" fill="#f9f9f9" opacity="0.43"/>
<rect x="679" y="300" width="11" height="4" fill="#dedede" opacity="0.35"/>
<rect x="439" y="533" width="7" height="4" fill="#f9f9f9" opacity="0.41"/>
<rect x="367" y="351" width="14" height="4" fill="#e3e3e3" opacity="0.55"/>
<rect x="686" y="103" width="8" height="4" fill="#e7e7e7" opacity="0.38"/>
<rect x="291" y="280" width="6" height="7" fill="#e3e3e3" opacity="0.38"/>
<rect x="334" y="369" width="16" height="11" fill="#e3e3e3" opacity="0.51"/>
<rect x="66" y="280" width="7" height="4" fill="#e3e3e3" opacity="0.42"/>
<rect x="60" y="517" width="5" height="10" fill="#fdfdfd" opacity="0.39"/>
<rect x="244" y="591" width="7" height="6" fill="#dedede" opacity="0.45"/>
<rect x="95" y="559" width="7" height="3" fill="#f9f9f9" opacity="0.59"/>
<rect x="34" y="126" width="18" height="6" fill="#dedede" opacity="0.56"/>
<rect x="127" y="460" width="17" height="8" fill="#fdfdfd" opacity="0.39"/>
<rect x="347" y="479" width="12" height="5" fill="#fdfdfd" opacity="0.34"/>
<rect x="216" y="296" width="11" height="8" fill="#f9f9f9" opacity="0.39"/>
<rect x="297" y="472" width="16" height="5" fill="#fdfdfd" opacity="0.32"/>
<rect x="147" y="242" width="6" height="4" fill="#e3e3e3" opacity="0.43"/>
<rect x="77" y="599" width="16" height="5" fill="#dedede" opacity="0.58"/>
<rect x="603" y="353" width="9" height="11" fill="#f9f9f9" opacity="0.32"/>
<rect x="23" y="199" width="12" height="9" fill="#e3e3e3" opacity="0.58"/>
<rect x="587" y="230" width="18" height="4" fill="#f9f9f9" opacity="0.50"/>
<rect x="511" y="298" width="17" height="6" fill="#e7e7e7" opacity="0.36"/>
<rect x="102" y="394" width="12" height="5" fill="#fdfdfd" opacity="0.60"/>
<rect x="640" y="488" width="15" height="4" fill="#e3e3e3" opacity="0.58"/>
</g></g>
<polyline points="5,398 749,524" fill="none" stroke="#707070" stroke-width="1.1"/>
<polyline points="5,103.4 749,119" fill="none" stroke="#777" stroke-width="1"/>
<rect x="272" y="108.5" width="11" height="345" fill="#f3f4f4"/>
<line x1="272" y1="108.5" x2="283" y2="109" stroke="#555" stroke-width="1.2"/>
<path d="M107,353 L111,353 L111,418 L112,418 Q107,416 107,410 Z" fill="#aab1b5" stroke="#737a7e" stroke-width="1"/>
<rect x="111" y="86" width="161" height="335" fill="#a8afb3"/>
<g clip-path="url(#studclip)"><g filter="url(#blur2)">
<rect x="134" y="368" width="8" height="11" fill="#bac0c5" opacity="0.46"/>
<rect x="230" y="338" width="30" height="14" fill="#a5acb1" opacity="0.49"/>
<rect x="190" y="146" width="21" height="29" fill="#a0a7ac" opacity="0.34"/>
<rect x="186" y="274" width="14" height="15" fill="#a0a7ac" opacity="0.39"/>
<rect x="114" y="226" width="22" height="9" fill="#a0a7ac" opacity="0.21"/>
<rect x="204" y="231" width="13" height="9" fill="#b3b9be" opacity="0.36"/>
<rect x="187" y="201" width="12" height="28" fill="#b3b9be" opacity="0.29"/>
<rect x="146" y="191" width="26" height="7" fill="#a0a7ac" opacity="0.42"/>
<rect x="172" y="113" width="27" height="23" fill="#b3b9be" opacity="0.42"/>
<rect x="229" y="297" width="11" height="12" fill="#b3b9be" opacity="0.39"/>
<rect x="119" y="202" width="23" height="13" fill="#bac0c5" opacity="0.33"/>
<rect x="233" y="180" width="21" height="27" fill="#a0a7ac" opacity="0.30"/>
<rect x="217" y="144" width="17" height="23" fill="#bac0c5" opacity="0.31"/>
<rect x="217" y="369" width="12" height="18" fill="#a5acb1" opacity="0.46"/>
<rect x="156" y="396" width="17" height="16" fill="#a0a7ac" opacity="0.41"/>
<rect x="210" y="166" width="14" height="7" fill="#bac0c5" opacity="0.46"/>
<rect x="137" y="332" width="27" height="16" fill="#b3b9be" opacity="0.35"/>
<rect x="189" y="406" width="9" height="13" fill="#b3b9be" opacity="0.50"/>
<rect x="225" y="324" width="15" height="10" fill="#bac0c5" opacity="0.43"/>
<rect x="203" y="145" width="14" height="22" fill="#bac0c5" opacity="0.37"/>
<rect x="125" y="314" width="20" height="12" fill="#a0a7ac" opacity="0.27"/>
<rect x="156" y="97" width="20" height="20" fill="#b3b9be" opacity="0.35"/>
<rect x="173" y="163" width="26" height="8" fill="#a5acb1" opacity="0.29"/>
<rect x="242" y="123" width="16" height="15" fill="#a5acb1" opacity="0.27"/>
<rect x="190" y="208" width="27" height="12" fill="#bac0c5" opacity="0.36"/>
<rect x="178" y="315" width="19" height="13" fill="#a5acb1" opacity="0.50"/>
<rect x="146" y="285" width="7" height="15" fill="#a5acb1" opacity="0.36"/>
<rect x="126" y="166" width="15" height="25" fill="#a5acb1" opacity="0.48"/>
<rect x="228" y="308" width="27" height="13" fill="#bac0c5" opacity="0.23"/>
<rect x="177" y="248" width="8" height="15" fill="#b3b9be" opacity="0.48"/>
<rect x="216" y="118" width="14" height="15" fill="#a5acb1" opacity="0.23"/>
<rect x="144" y="208" width="13" height="19" fill="#b3b9be" opacity="0.38"/>
<rect x="219" y="285" width="19" height="13" fill="#b3b9be" opacity="0.45"/>
<rect x="205" y="128" width="15" height="30" fill="#bac0c5" opacity="0.30"/>
<rect x="163" y="209" width="16" height="29" fill="#a0a7ac" opacity="0.50"/>
<rect x="165" y="167" width="11" height="19" fill="#a0a7ac" opacity="0.44"/>
<rect x="165" y="312" width="17" height="26" fill="#bac0c5" opacity="0.31"/>
<rect x="165" y="100" width="27" height="14" fill="#a5acb1" opacity="0.44"/>
<rect x="136" y="147" width="19" height="8" fill="#a0a7ac" opacity="0.41"/>
<rect x="230" y="177" width="24" height="22" fill="#a0a7ac" opacity="0.41"/>
<rect x="149" y="184" width="24" height="9" fill="#a0a7ac" opacity="0.36"/>
<rect x="191" y="155" width="21" height="25" fill="#a5acb1" opacity="0.42"/>
<rect x="237" y="246" width="14" height="9" fill="#a0a7ac" opacity="0.45"/>
<rect x="196" y="97" width="22" height="9" fill="#a0a7ac" opacity="0.28"/>
<rect x="223" y="255" width="26" height="10" fill="#bac0c5" opacity="0.39"/>
<rect x="234" y="234" width="12" height="8" fill="#a0a7ac" opacity="0.46"/>
<rect x="162" y="94" width="11" height="28" fill="#b3b9be" opacity="0.31"/>
<rect x="207" y="103" width="28" height="7" fill="#b3b9be" opacity="0.40"/>
<rect x="124" y="150" width="13" height="24" fill="#a5acb1" opacity="0.38"/>
<rect x="112" y="105" width="29" height="19" fill="#b3b9be" opacity="0.27"/>
<rect x="195" y="273" width="8" height="28" fill="#a0a7ac" opacity="0.31"/>
<rect x="225" y="351" width="19" height="15" fill="#a0a7ac" opacity="0.28"/>
<rect x="145" y="300" width="24" height="26" fill="#a5acb1" opacity="0.21"/>
<rect x="232" y="233" width="8" height="17" fill="#b3b9be" opacity="0.35"/>
<rect x="226" y="357" width="7" height="24" fill="#b3b9be" opacity="0.32"/>
<rect x="249" y="381" width="10" height="18" fill="#a0a7ac" opacity="0.36"/>
<rect x="182" y="241" width="10" height="28" fill="#a0a7ac" opacity="0.40"/>
<rect x="245" y="169" width="12" height="20" fill="#b3b9be" opacity="0.39"/>
<rect x="194" y="155" width="18" height="15" fill="#a5acb1" opacity="0.44"/>
<rect x="217" y="130" width="27" height="13" fill="#a0a7ac" opacity="0.41"/>
<rect x="125" y="389" width="10" height="22" fill="#a5acb1" opacity="0.44"/>
<rect x="249" y="145" width="16" height="22" fill="#bac0c5" opacity="0.25"/>
<rect x="159" y="283" width="10" height="28" fill="#a5acb1" opacity="0.32"/>
<rect x="198" y="147" width="10" height="10" fill="#a5acb1" opacity="0.38"/>
<rect x="184" y="117" width="11" height="21" fill="#a0a7ac" opacity="0.33"/>
<rect x="125" y="222" width="27" height="22" fill="#b3b9be" opacity="0.39"/>
<rect x="135" y="192" width="20" height="29" fill="#bac0c5" opacity="0.34"/>
<rect x="217" y="134" width="8" height="21" fill="#bac0c5" opacity="0.22"/>
<rect x="139" y="149" width="20" height="28" fill="#b3b9be" opacity="0.28"/>
<rect x="149" y="181" width="8" height="18" fill="#a5acb1" opacity="0.27"/>
<rect x="173" y="318" width="12" height="27" fill="#bac0c5" opacity="0.23"/>
<rect x="178" y="93" width="24" height="17" fill="#a0a7ac" opacity="0.26"/>
<rect x="174" y="374" width="7" height="24" fill="#a5acb1" opacity="0.27"/>
<rect x="228" y="320" width="16" height="21" fill="#a5acb1" opacity="0.38"/>
<rect x="150" y="343" width="19" height="24" fill="#a5acb1" opacity="0.26"/>
<rect x="258" y="377" width="7" height="11" fill="#bac0c5" opacity="0.22"/>
<rect x="254" y="90" width="15" height="27" fill="#a5acb1" opacity="0.39"/>
<rect x="129" y="181" width="26" height="17" fill="#a0a7ac" opacity="0.24"/>
<rect x="154" y="211" width="15" height="6" fill="#b3b9be" opacity="0.36"/>
<rect x="118" y="112" width="12" height="8" fill="#bac0c5" opacity="0.44"/>
<rect x="230" y="122" width="13" height="19" fill="#bac0c5" opacity="0.50"/>
<rect x="246" y="304" width="13" height="25" fill="#a5acb1" opacity="0.39"/>
<rect x="127" y="228" width="24" height="27" fill="#a5acb1" opacity="0.49"/>
<rect x="144" y="394" width="15" height="16" fill="#b3b9be" opacity="0.34"/>
<rect x="183" y="263" width="23" height="15" fill="#bac0c5" opacity="0.38"/>
<rect x="240" y="135" width="22" height="12" fill="#a5acb1" opacity="0.43"/>
<rect x="188" y="224" width="13" height="10" fill="#b3b9be" opacity="0.47"/>
<rect x="173" y="97" width="12" height="19" fill="#a5acb1" opacity="0.40"/>
<rect x="171" y="320" width="25" height="28" fill="#bac0c5" opacity="0.48"/>
<rect x="220" y="92" width="9" height="13" fill="#a5acb1" opacity="0.31"/>
<rect x="115" y="250" width="25" height="8" fill="#bac0c5" opacity="0.44"/>
<rect x="121" y="177" width="19" height="21" fill="#a5acb1" opacity="0.33"/>
<rect x="247" y="267" width="20" height="14" fill="#bac0c5" opacity="0.36"/>
<rect x="119" y="122" width="22" height="13" fill="#a5acb1" opacity="0.22"/>
<rect x="211" y="173" width="23" height="20" fill="#a5acb1" opacity="0.29"/>
<rect x="175" y="193" width="20" height="7" fill="#b3b9be" opacity="0.39"/>
<rect x="185" y="197" width="18" height="8" fill="#b3b9be" opacity="0.23"/>
<rect x="214" y="204" width="18" height="18" fill="#a5acb1" opacity="0.47"/>
<rect x="196" y="162" width="18" height="20" fill="#a5acb1" opacity="0.48"/>
<rect x="202" y="149" width="12" height="26" fill="#a0a7ac" opacity="0.44"/>
<rect x="233" y="143" width="19" height="8" fill="#b3b9be" opacity="0.41"/>
<rect x="134" y="293" width="28" height="16" fill="#b3b9be" opacity="0.40"/>
<rect x="210" y="304" width="9" height="17" fill="#bac0c5" opacity="0.47"/>
<rect x="201" y="148" width="29" height="15" fill="#b3b9be" opacity="0.32"/>
<rect x="138" y="386" width="20" height="18" fill="#b3b9be" opacity="0.50"/>
<rect x="146" y="315" width="17" height="26" fill="#a0a7ac" opacity="0.45"/>
<rect x="216" y="239" width="27" height="12" fill="#b3b9be" opacity="0.38"/>
<rect x="135" y="253" width="30" height="27" fill="#a0a7ac" opacity="0.25"/>
<rect x="143" y="192" width="10" height="20" fill="#bac0c5" opacity="0.36"/>
<rect x="259" y="342" width="9" height="19" fill="#b3b9be" opacity="0.29"/>
<rect x="113" y="225" width="12" height="15" fill="#a5acb1" opacity="0.34"/>
<rect x="225" y="115" width="17" height="21" fill="#a0a7ac" opacity="0.32"/>
<rect x="180" y="218" width="12" height="20" fill="#bac0c5" opacity="0.27"/>
<rect x="166" y="388" width="13" height="29" fill="#bac0c5" opacity="0.43"/>
<rect x="194" y="363" width="20" height="21" fill="#a5acb1" opacity="0.36"/>
<rect x="184" y="172" width="26" height="10" fill="#a5acb1" opacity="0.25"/>
<rect x="231" y="288" width="8" height="30" fill="#b3b9be" opacity="0.38"/>
<rect x="186" y="187" width="28" height="25" fill="#b3b9be" opacity="0.35"/>
<rect x="226" y="390" width="7" height="12" fill="#b3b9be" opacity="0.40"/>
<rect x="170" y="229" width="28" height="25" fill="#b3b9be" opacity="0.48"/>
<rect x="127" y="327" width="23" height="10" fill="#a0a7ac" opacity="0.26"/>
<rect x="139" y="190" width="11" height="22" fill="#a5acb1" opacity="0.34"/>
<rect x="236" y="104" width="7" height="26" fill="#a5acb1" opacity="0.22"/>
<rect x="180" y="221" width="17" height="6" fill="#bac0c5" opacity="0.32"/>
<rect x="190" y="160" width="26" height="25" fill="#b3b9be" opacity="0.39"/>
<rect x="239" y="89" width="16" height="7" fill="#bac0c5" opacity="0.38"/>
<rect x="155" y="90" width="30" height="11" fill="#bac0c5" opacity="0.45"/>
<rect x="177" y="238" width="26" height="27" fill="#b3b9be" opacity="0.45"/>
<rect x="113" y="206" width="20" height="20" fill="#b3b9be" opacity="0.32"/>
<rect x="181" y="119" width="29" height="18" fill="#bac0c5" opacity="0.32"/>
<rect x="233" y="272" width="8" height="24" fill="#bac0c5" opacity="0.42"/>
<rect x="233" y="180" width="17" height="24" fill="#a5acb1" opacity="0.40"/>
<rect x="234" y="360" width="13" height="28" fill="#a0a7ac" opacity="0.31"/>
<rect x="201" y="282" width="17" height="8" fill="#bac0c5" opacity="0.30"/>
<rect x="191" y="365" width="19" height="28" fill="#bac0c5" opacity="0.33"/>
<rect x="189" y="132" width="27" height="21" fill="#a5acb1" opacity="0.29"/>
<rect x="150" y="304" width="28" height="7" fill="#a0a7ac" opacity="0.30"/>
<rect x="217" y="96" width="27" height="7" fill="#a0a7ac" opacity="0.44"/>
<rect x="145" y="311" width="12" height="15" fill="#b3b9be" opacity="0.38"/>
<rect x="235" y="117" width="9" height="25" fill="#a5acb1" opacity="0.35"/>
<rect x="228" y="142" width="15" height="14" fill="#b3b9be" opacity="0.48"/>
<rect x="187" y="387" width="6" height="12" fill="#a0a7ac" opacity="0.45"/>
<rect x="217" y="316" width="6" height="26" fill="#b3b9be" opacity="0.30"/>
<rect x="157" y="314" width="10" height="9" fill="#bac0c5" opacity="0.46"/>
<rect x="181" y="345" width="17" height="24" fill="#bac0c5" opacity="0.27"/>
<rect x="141" y="86" width="29" height="25" fill="#b3b9be" opacity="0.23"/>
<rect x="198" y="344" width="24" height="25" fill="#b3b9be" opacity="0.49"/>
<rect x="218" y="213" width="9" height="10" fill="#a0a7ac" opacity="0.45"/>
<rect x="147" y="260" width="20" height="13" fill="#a0a7ac" opacity="0.38"/>
<rect x="212" y="93" width="15" height="10" fill="#bac0c5" opacity="0.26"/>
<rect x="159" y="329" width="13" height="6" fill="#a5acb1" opacity="0.44"/>
<rect x="124" y="214" width="19" height="17" fill="#a0a7ac" opacity="0.25"/>
<rect x="125" y="293" width="8" height="24" fill="#bac0c5" opacity="0.24"/>
<rect x="247" y="290" width="17" height="7" fill="#bac0c5" opacity="0.21"/>
<rect x="227" y="316" width="14" height="12" fill="#a5acb1" opacity="0.36"/>
<rect x="164" y="181" width="23" height="9" fill="#b3b9be" opacity="0.29"/>
<rect x="179" y="146" width="9" height="16" fill="#a5acb1" opacity="0.29"/>
<rect x="128" y="106" width="21" height="8" fill="#a5acb1" opacity="0.46"/>
<rect x="126" y="248" width="12" height="12" fill="#a0a7ac" opacity="0.35"/>
<rect x="243" y="360" width="11" height="6" fill="#b3b9be" opacity="0.31"/>
</g>
<rect x="113" y="86" width="15" height="335" fill="#abb2b7" opacity="0.4"/>
<rect x="146" y="86" width="57" height="335" fill="#aab1b6" opacity="0.3"/>
<rect x="223" y="86" width="16" height="335" fill="#b2b8bd" opacity="0.35"/>
<rect x="265" y="86" width="6" height="335" fill="#b9bfc3" opacity="0.6"/>
<rect x="131" y="86" width="10" height="335" fill="#b3b9be" opacity="0.4"/>
</g>
<g fill="none"><line x1="111.8" y1="86" x2="111.8" y2="416" stroke-width="2" stroke="#62696e"/><line x1="118" y1="320" x2="118" y2="414" stroke-width="1" stroke="#80878b"/><line x1="129.4" y1="86" x2="129.4" y2="420" stroke-width="1.3" stroke="#70787d"/><line x1="131" y1="86" x2="131" y2="420" stroke-width="1" stroke="#b9bfc3"/><line x1="143" y1="86" x2="143" y2="420" stroke-width="3" stroke="#677074"/><line x1="145.5" y1="86" x2="145.5" y2="420" stroke-width="1" stroke="#b5bbbf"/><line x1="206" y1="86" x2="206" y2="420" stroke-width="1.1" stroke="#858c91"/><line x1="220.8" y1="86" x2="220.8" y2="420" stroke-width="2.2" stroke="#6a7277"/><line x1="223" y1="86" x2="223" y2="420" stroke-width="1" stroke="#b7bdc1"/><line x1="240.3" y1="86" x2="240.3" y2="420" stroke-width="1" stroke="#858c91"/><line x1="247.2" y1="86" x2="247.2" y2="420" stroke-width="2.2" stroke="#6a7277"/><line x1="249.5" y1="86" x2="249.5" y2="420" stroke-width="1" stroke="#b5bbbf"/><line x1="271.6" y1="86" x2="271.6" y2="420" stroke-width="1.6" stroke="#767d82"/></g>
<polygon points="272,256 279,252 279,345 272,345" fill="#b9bfc3"/>
<line x1="272" y1="256" x2="280" y2="251" stroke="#555" stroke-width="1.2"/>
<rect x="283" y="86" width="74" height="270" fill="#c8cfc8"/>
<g clip-path="url(#jclip)"><g filter="url(#blur1)">
<rect x="335" y="325" width="4" height="12" fill="#bac2bb" opacity="0.34"/>
<rect x="312" y="209" width="9" height="7" fill="#c2c9c2" opacity="0.43"/>
<rect x="299" y="218" width="10" height="6" fill="#d9dfd9" opacity="0.37"/>
<rect x="334" y="304" width="14" height="4" fill="#e3e8e3" opacity="0.51"/>
<rect x="284" y="346" width="13" height="9" fill="#bac2bb" opacity="0.46"/>
<rect x="323" y="349" width="11" height="5" fill="#e3e8e3" opacity="0.36"/>
<rect x="342" y="331" width="8" height="11" fill="#c2c9c2" opacity="0.36"/>
<rect x="319" y="241" width="4" height="5" fill="#c2c9c2" opacity="0.48"/>
<rect x="318" y="249" width="13" height="12" fill="#bac2bb" opacity="0.53"/>
<rect x="310" y="151" width="10" height="11" fill="#e3e8e3" opacity="0.55"/>
<rect x="314" y="222" width="11" height="4" fill="#d9dfd9" opacity="0.49"/>
<rect x="289" y="143" width="4" height="8" fill="#c2c9c2" opacity="0.48"/>
<rect x="318" y="97" width="8" height="10" fill="#d9dfd9" opacity="0.30"/>
<rect x="294" y="226" width="5" height="5" fill="#e3e8e3" opacity="0.36"/>
<rect x="313" y="119" width="5" height="8" fill="#d9dfd9" opacity="0.40"/>
<rect x="327" y="158" width="3" height="13" fill="#c2c9c2" opacity="0.55"/>
<rect x="294" y="285" width="6" height="10" fill="#e3e8e3" opacity="0.48"/>
<rect x="339" y="282" width="4" height="13" fill="#d9dfd9" opacity="0.31"/>
<rect x="315" y="251" width="14" height="12" fill="#d9dfd9" opacity="0.42"/>
<rect x="304" y="88" width="7" height="11" fill="#c2c9c2" opacity="0.48"/>
<rect x="298" y="271" width="11" height="8" fill="#e3e8e3" opacity="0.31"/>
<rect x="314" y="178" width="10" height="11" fill="#c2c9c2" opacity="0.27"/>
<rect x="329" y="239" width="13" height="11" fill="#c2c9c2" opacity="0.44"/>
<rect x="311" y="255" width="10" height="10" fill="#bac2bb" opacity="0.40"/>
<rect x="298" y="207" width="3" height="13" fill="#d9dfd9" opacity="0.46"/>
<rect x="292" y="281" width="6" height="12" fill="#bac2bb" opacity="0.34"/>
<rect x="343" y="347" width="8" height="6" fill="#c2c9c2" opacity="0.35"/>
<rect x="334" y="237" width="4" height="8" fill="#bac2bb" opacity="0.37"/>
<rect x="323" y="338" width="6" height="8" fill="#e3e8e3" opacity="0.33"/>
<rect x="341" y="333" width="9" height="7" fill="#e3e8e3" opacity="0.48"/>
<rect x="305" y="254" width="10" height="15" fill="#d9dfd9" opacity="0.32"/>
<rect x="338" y="153" width="6" height="13" fill="#e3e8e3" opacity="0.26"/>
<rect x="284" y="322" width="12" height="8" fill="#e3e8e3" opacity="0.29"/>
<rect x="306" y="217" width="7" height="12" fill="#c2c9c2" opacity="0.33"/>
<rect x="303" y="223" width="9" height="9" fill="#d9dfd9" opacity="0.35"/>
<rect x="317" y="208" width="13" height="13" fill="#e3e8e3" opacity="0.52"/>
<rect x="330" y="148" width="6" height="7" fill="#bac2bb" opacity="0.52"/>
<rect x="300" y="224" width="3" height="12" fill="#c2c9c2" opacity="0.36"/>
<rect x="296" y="248" width="8" height="12" fill="#c2c9c2" opacity="0.41"/>
<rect x="306" y="109" width="8" height="5" fill="#e3e8e3" opacity="0.29"/>
<rect x="295" y="292" width="5" height="10" fill="#d9dfd9" opacity="0.41"/>
<rect x="304" y="238" width="5" height="9" fill="#e3e8e3" opacity="0.39"/>
<rect x="307" y="337" width="13" height="8" fill="#e3e8e3" opacity="0.26"/>
<rect x="296" y="217" width="8" height="10" fill="#d9dfd9" opacity="0.46"/>
<rect x="298" y="281" width="8" height="16" fill="#e3e8e3" opacity="0.54"/>
<rect x="334" y="167" width="4" height="13" fill="#d9dfd9" opacity="0.37"/>
<rect x="342" y="188" width="11" height="5" fill="#c2c9c2" opacity="0.39"/>
<rect x="317" y="93" width="12" height="8" fill="#c2c9c2" opacity="0.30"/>
<rect x="323" y="135" width="5" height="8" fill="#d9dfd9" opacity="0.54"/>
<rect x="334" y="242" width="4" height="12" fill="#d9dfd9" opacity="0.41"/>
<rect x="326" y="150" width="8" height="15" fill="#d9dfd9" opacity="0.37"/>
<rect x="301" y="206" width="9" height="10" fill="#bac2bb" opacity="0.47"/>
<rect x="345" y="262" width="5" height="6" fill="#e3e8e3" opacity="0.29"/>
<rect x="283" y="193" width="8" height="15" fill="#d9dfd9" opacity="0.40"/>
<rect x="318" y="307" width="14" height="10" fill="#d9dfd9" opacity="0.37"/>
<rect x="295" y="286" width="4" height="13" fill="#c2c9c2" opacity="0.49"/>
<rect x="312" y="154" width="4" height="15" fill="#bac2bb" opacity="0.28"/>
<rect x="289" y="309" width="13" height="8" fill="#bac2bb" opacity="0.55"/>
<rect x="306" y="169" width="5" height="4" fill="#d9dfd9" opacity="0.26"/>
<rect x="316" y="316" width="5" height="5" fill="#bac2bb" opacity="0.48"/>
<rect x="297" y="229" width="6" height="13" fill="#c2c9c2" opacity="0.48"/>
<rect x="340" y="297" width="5" height="8" fill="#d9dfd9" opacity="0.47"/>
<rect x="332" y="174" width="8" height="5" fill="#bac2bb" opacity="0.53"/>
<rect x="321" y="213" width="10" height="12" fill="#c2c9c2" opacity="0.42"/>
<rect x="312" y="199" width="4" height="9" fill="#e3e8e3" opacity="0.41"/>
<rect x="304" y="246" width="5" height="7" fill="#c2c9c2" opacity="0.26"/>
<rect x="311" y="241" width="11" height="9" fill="#e3e8e3" opacity="0.26"/>
<rect x="286" y="274" width="9" height="6" fill="#c2c9c2" opacity="0.45"/>
<rect x="297" y="257" width="13" height="15" fill="#c2c9c2" opacity="0.33"/>
<rect x="313" y="185" width="11" height="14" fill="#bac2bb" opacity="0.31"/>
<rect x="306" y="176" width="12" height="13" fill="#c2c9c2" opacity="0.52"/>
<rect x="296" y="275" width="14" height="9" fill="#c2c9c2" opacity="0.45"/>
<rect x="344" y="243" width="8" height="15" fill="#d9dfd9" opacity="0.46"/>
<rect x="319" y="273" width="3" height="9" fill="#d9dfd9" opacity="0.43"/>
<rect x="342" y="110" width="8" height="7" fill="#bac2bb" opacity="0.47"/>
<rect x="330" y="103" width="9" height="16" fill="#d9dfd9" opacity="0.28"/>
<rect x="325" y="175" width="8" height="11" fill="#d9dfd9" opacity="0.38"/>
<rect x="341" y="227" width="7" height="6" fill="#bac2bb" opacity="0.52"/>
<rect x="321" y="158" width="9" height="7" fill="#bac2bb" opacity="0.34"/>
<rect x="321" y="241" width="11" height="7" fill="#c2c9c2" opacity="0.29"/>
<rect x="310" y="285" width="5" height="8" fill="#c2c9c2" opacity="0.51"/>
<rect x="305" y="99" width="14" height="6" fill="#e3e8e3" opacity="0.30"/>
<rect x="296" y="343" width="13" height="8" fill="#bac2bb" opacity="0.29"/>
<rect x="333" y="216" width="13" height="16" fill="#bac2bb" opacity="0.29"/>
<rect x="332" y="153" width="10" height="16" fill="#c2c9c2" opacity="0.31"/>
<rect x="290" y="165" width="14" height="5" fill="#c2c9c2" opacity="0.35"/>
<rect x="302" y="177" width="6" height="7" fill="#d9dfd9" opacity="0.46"/>
<rect x="290" y="97" width="13" height="12" fill="#bac2bb" opacity="0.42"/>
<rect x="322" y="315" width="13" height="5" fill="#bac2bb" opacity="0.32"/>
<rect x="304" y="98" width="14" height="13" fill="#e3e8e3" opacity="0.33"/>
<rect x="323" y="180" width="12" height="5" fill="#e3e8e3" opacity="0.46"/>
<rect x="337" y="240" width="11" height="15" fill="#e3e8e3" opacity="0.33"/>
<rect x="350" y="97" width="6" height="5" fill="#c2c9c2" opacity="0.35"/>
<rect x="347" y="151" width="5" height="9" fill="#bac2bb" opacity="0.51"/>
<rect x="301" y="236" width="14" height="10" fill="#d9dfd9" opacity="0.42"/>
<rect x="319" y="122" width="3" height="8" fill="#c2c9c2" opacity="0.52"/>
<rect x="338" y="91" width="8" height="5" fill="#e3e8e3" opacity="0.50"/>
<rect x="296" y="167" width="3" height="5" fill="#d9dfd9" opacity="0.40"/>
<rect x="328" y="225" width="5" height="15" fill="#e3e8e3" opacity="0.35"/>
<rect x="311" y="120" width="4" height="6" fill="#c2c9c2" opacity="0.29"/>
<rect x="308" y="294" width="7" height="7" fill="#e3e8e3" opacity="0.43"/>
<rect x="289" y="279" width="8" height="13" fill="#d9dfd9" opacity="0.42"/>
<rect x="304" y="314" width="10" height="6" fill="#d9dfd9" opacity="0.41"/>
<rect x="339" y="291" width="4" height="12" fill="#e3e8e3" opacity="0.35"/>
<rect x="331" y="181" width="5" height="13" fill="#e3e8e3" opacity="0.45"/>
<rect x="323" y="97" width="13" height="9" fill="#e3e8e3" opacity="0.35"/>
<rect x="341" y="177" width="9" height="13" fill="#c2c9c2" opacity="0.46"/>
<rect x="323" y="203" width="7" height="11" fill="#bac2bb" opacity="0.52"/>
<rect x="288" y="137" width="12" height="8" fill="#c2c9c2" opacity="0.26"/>
<rect x="317" y="226" width="12" height="10" fill="#c2c9c2" opacity="0.52"/>
</g></g>
<rect x="335" y="86" width="21" height="270" fill="#dde1dd" opacity="0.45"/>
<line x1="334" y1="86" x2="334" y2="356" stroke="#8a8f8c" stroke-width="1.5"/>
<rect x="284" y="86" width="4" height="270" fill="#dfe3df" opacity="0.6"/>
<line x1="283.5" y1="86" x2="283.5" y2="356" stroke="#8d928f" stroke-width="1.2"/>
<line x1="356" y1="86" x2="356" y2="356" stroke="#8aa0a2" stroke-width="1"/>
<rect x="357" y="86" width="49" height="270" fill="#b1dfe9"/>
<polygon points="332,344 406,352 406,466 336,452" fill="#ededed"/>
<polygon points="332,344 404,352 336,452 332,450" fill="#cbd2ce"/>
<clipPath id="jlclip"><polygon points="332,344 404,352 336,452 332,450"/></clipPath>
<g clip-path="url(#jlclip)"><g filter="url(#blur1)">
<rect x="348" y="413" width="8" height="6" fill="#c0c8c3" opacity="0.57"/>
<rect x="389" y="349" width="10" height="14" fill="#e4e9e6" opacity="0.60"/>
<rect x="355" y="424" width="10" height="17" fill="#b7bfba" opacity="0.40"/>
<rect x="380" y="380" width="8" height="17" fill="#c0c8c3" opacity="0.63"/>
<rect x="348" y="373" width="3" height="16" fill="#c0c8c3" opacity="0.67"/>
<rect x="341" y="405" width="3" height="10" fill="#b7bfba" opacity="0.55"/>
<rect x="391" y="345" width="10" height="11" fill="#c0c8c3" opacity="0.54"/>
<rect x="363" y="430" width="8" height="4" fill="#c0c8c3" opacity="0.48"/>
<rect x="335" y="356" width="12" height="13" fill="#e4e9e6" opacity="0.38"/>
<rect x="375" y="409" width="7" height="7" fill="#c0c8c3" opacity="0.67"/>
<rect x="359" y="374" width="11" height="12" fill="#edf0ee" opacity="0.52"/>
<rect x="345" y="383" width="11" height="18" fill="#c0c8c3" opacity="0.39"/>
<rect x="360" y="445" width="6" height="6" fill="#b7bfba" opacity="0.69"/>
<rect x="334" y="372" width="5" height="7" fill="#e4e9e6" opacity="0.36"/>
<rect x="383" y="380" width="7" height="17" fill="#edf0ee" opacity="0.62"/>
<rect x="343" y="387" width="8" height="13" fill="#edf0ee" opacity="0.49"/>
<rect x="354" y="402" width="4" height="17" fill="#e4e9e6" opacity="0.65"/>
<rect x="343" y="370" width="10" height="11" fill="#e4e9e6" opacity="0.47"/>
<rect x="357" y="413" width="8" height="17" fill="#edf0ee" opacity="0.47"/>
<rect x="341" y="417" width="9" height="15" fill="#e4e9e6" opacity="0.56"/>
<rect x="365" y="420" width="10" height="5" fill="#b7bfba" opacity="0.68"/>
<rect x="400" y="397" width="4" height="9" fill="#edf0ee" opacity="0.44"/>
<rect x="350" y="395" width="3" height="17" fill="#edf0ee" opacity="0.38"/>
<rect x="356" y="398" width="8" height="14" fill="#e4e9e6" opacity="0.47"/>
<rect x="333" y="349" width="3" height="8" fill="#e4e9e6" opacity="0.43"/>
<rect x="338" y="431" width="9" height="13" fill="#e4e9e6" opacity="0.54"/>
<rect x="396" y="420" width="5" height="5" fill="#c0c8c3" opacity="0.51"/>
<rect x="380" y="426" width="5" height="7" fill="#edf0ee" opacity="0.69"/>
<rect x="385" y="383" width="10" height="13" fill="#b7bfba" opacity="0.38"/>
<rect x="384" y="350" width="12" height="12" fill="#c0c8c3" opacity="0.47"/>
<rect x="351" y="362" width="7" height="16" fill="#e4e9e6" opacity="0.64"/>
<rect x="360" y="405" width="8" height="6" fill="#b7bfba" opacity="0.60"/>
<rect x="383" y="377" width="12" height="4" fill="#e4e9e6" opacity="0.50"/>
<rect x="398" y="364" width="5" height="12" fill="#e4e9e6" opacity="0.57"/>
<rect x="339" y="403" width="5" height="7" fill="#e4e9e6" opacity="0.46"/>
<rect x="343" y="383" width="6" height="11" fill="#b7bfba" opacity="0.46"/>
<rect x="338" y="408" width="10" height="7" fill="#c0c8c3" opacity="0.55"/>
<rect x="348" y="426" width="7" height="5" fill="#b7bfba" opacity="0.38"/>
<rect x="393" y="381" width="9" height="10" fill="#b7bfba" opacity="0.56"/>
<rect x="362" y="400" width="7" height="7" fill="#b7bfba" opacity="0.46"/>
<rect x="381" y="368" width="5" height="13" fill="#c0c8c3" opacity="0.53"/>
<rect x="383" y="358" width="7" height="12" fill="#b7bfba" opacity="0.47"/>
<rect x="350" y="393" width="12" height="5" fill="#c0c8c3" opacity="0.57"/>
<rect x="332" y="351" width="11" height="13" fill="#e4e9e6" opacity="0.53"/>
<rect x="395" y="355" width="5" height="18" fill="#edf0ee" opacity="0.49"/>
<rect x="369" y="398" width="12" height="9" fill="#edf0ee" opacity="0.42"/>
<rect x="390" y="412" width="11" height="17" fill="#e4e9e6" opacity="0.36"/>
<rect x="386" y="354" width="6" height="13" fill="#c0c8c3" opacity="0.69"/>
<rect x="354" y="422" width="11" height="14" fill="#e4e9e6" opacity="0.67"/>
<rect x="341" y="347" width="10" height="14" fill="#c0c8c3" opacity="0.46"/>
<rect x="367" y="346" width="5" height="17" fill="#edf0ee" opacity="0.66"/>
<rect x="337" y="385" width="3" height="15" fill="#e4e9e6" opacity="0.53"/>
<rect x="361" y="422" width="11" height="15" fill="#e4e9e6" opacity="0.63"/>
<rect x="338" y="431" width="4" height="4" fill="#b7bfba" opacity="0.49"/>
<rect x="373" y="409" width="5" height="14" fill="#c0c8c3" opacity="0.59"/>
<rect x="342" y="395" width="12" height="12" fill="#e4e9e6" opacity="0.38"/>
<rect x="352" y="378" width="10" height="7" fill="#e4e9e6" opacity="0.47"/>
<rect x="384" y="363" width="9" height="11" fill="#edf0ee" opacity="0.53"/>
<rect x="358" y="418" width="10" height="9" fill="#b7bfba" opacity="0.46"/>
<rect x="367" y="382" width="11" height="14" fill="#c0c8c3" opacity="0.38"/>
</g></g>
<rect x="334" y="347" width="4" height="104" fill="#e2e7e5" opacity="0.7"/>
<line x1="404" y1="352" x2="336" y2="452" stroke="#7a807d" stroke-width="1.2"/>
<line x1="358" y1="347" x2="358" y2="418" stroke="#8d928f" stroke-width="1"/>
<line x1="336" y1="452" x2="406" y2="466" stroke="#707070" stroke-width="1.1"/>
<polygon points="406,86 605,86 590,496 590,402 406,378" fill="#f4e9bc"/>
<g clip-path="url(#timclip)"><g filter="url(#blur1)">
<rect x="406" y="80" width="3" height="430" fill="#f7edc4" opacity="0.7"/>
<rect x="417" y="80" width="4" height="430" fill="#f7edc4" opacity="0.7"/>
<rect x="440" y="80" width="10" height="430" fill="#f7edc4" opacity="0.7"/>
<rect x="458" y="80" width="10" height="430" fill="#f7edc4" opacity="0.7"/>
<rect x="524" y="80" width="6" height="430" fill="#f7edc4" opacity="0.7"/>
<rect x="545" y="80" width="10" height="430" fill="#f7edc4" opacity="0.7"/>
<rect x="592" y="80" width="9" height="430" fill="#f7edc4" opacity="0.7"/>
<rect x="409" y="80" width="7" height="430" fill="#e6d4a0" opacity="0.85"/>
<rect x="421" y="80" width="19" height="430" fill="#ebdbab" opacity="0.6"/>
<rect x="450" y="80" width="8" height="430" fill="#e1cd9a" opacity="0.9"/>
<rect x="468" y="80" width="9" height="430" fill="#e0cb97" opacity="0.9"/>
<rect x="488" y="80" width="4" height="430" fill="#e6d4a2" opacity="0.6"/>
<rect x="507" y="80" width="8" height="430" fill="#e2cf9b" opacity="0.85"/>
<rect x="515" y="80" width="9" height="430" fill="#ebdcab" opacity="0.5"/>
<rect x="530" y="80" width="7" height="430" fill="#e5d2a0" opacity="0.7"/>
<rect x="555" y="80" width="15" height="430" fill="#ecdcab" opacity="0.5"/>
<rect x="570" y="80" width="8" height="430" fill="#e0cc99" opacity="0.85"/>
<rect x="578" y="80" width="12" height="430" fill="#ecdcab" opacity="0.5"/>
</g></g>
<polygon points="590,86 605,86 590,496" fill="#f2eacb"/>
<line x1="590.8" y1="86" x2="590.8" y2="496" stroke="#5f5a40" stroke-width="1.6"/>
<line x1="605" y1="86" x2="590" y2="497" stroke="#2e2e28" stroke-width="1.8"/>
<line x1="591" y1="187" x2="599" y2="187.5" stroke="#5f5a40" stroke-width="1"/>
<polygon points="406,378 590,402 590,495 406,465" fill="#eddca8"/>
<g clip-path="url(#blockclip)"><g stroke-linecap="butt" filter="url(#blur1)">
<line x1="371.9" y1="365" x2="461.8" y2="510" stroke="#cbb47e" stroke-width="5" opacity="0.6"/>
<line x1="386.9" y1="365" x2="476.8" y2="510" stroke="#cbb47e" stroke-width="5" opacity="0.6"/>
<line x1="397.9" y1="365" x2="487.8" y2="510" stroke="#fbf3cc" stroke-width="3" opacity="0.8"/>
<line x1="410.9" y1="365" x2="500.8" y2="510" stroke="#cbb47e" stroke-width="7" opacity="0.95"/>
<line x1="423.9" y1="365" x2="513.8" y2="510" stroke="#fbf3cc" stroke-width="4" opacity="0.9"/>
<line x1="436.9" y1="365" x2="526.8" y2="510" stroke="#cbb47e" stroke-width="4" opacity="0.7"/>
<line x1="449.9" y1="365" x2="539.8" y2="510" stroke="#fbf3cc" stroke-width="6" opacity="0.9"/>
<line x1="461.9" y1="365" x2="551.8" y2="510" stroke="#cbb47e" stroke-width="5" opacity="0.85"/>
<line x1="475.9" y1="365" x2="565.8" y2="510" stroke="#fbf3cc" stroke-width="4" opacity="0.8"/>
<line x1="483.9" y1="365" x2="573.8" y2="510" stroke="#cbb47e" stroke-width="3" opacity="0.6"/>
<line x1="502.9" y1="365" x2="592.8" y2="510" stroke="#cbb47e" stroke-width="6" opacity="0.85"/>
<line x1="513.9" y1="365" x2="603.8" y2="510" stroke="#fbf3cc" stroke-width="4" opacity="0.9"/>
<line x1="524.9" y1="365" x2="614.8" y2="510" stroke="#cbb47e" stroke-width="8" opacity="0.95"/>
<line x1="541.9" y1="365" x2="631.8" y2="510" stroke="#fbf3cc" stroke-width="5" opacity="0.9"/>
<line x1="553.9" y1="365" x2="643.8" y2="510" stroke="#cbb47e" stroke-width="4" opacity="0.7"/>
<line x1="566.9" y1="365" x2="656.8" y2="510" stroke="#fbf3cc" stroke-width="6" opacity="0.8"/>
<line x1="576.9" y1="365" x2="666.8" y2="510" stroke="#cbb47e" stroke-width="4" opacity="0.6"/>
<line x1="351.9" y1="365" x2="441.8" y2="510" stroke="#cbb47e" stroke-width="5" opacity="0.6"/>
<line x1="336.9" y1="365" x2="426.8" y2="510" stroke="#cbb47e" stroke-width="4" opacity="0.5"/>
</g></g>
<line x1="406.8" y1="86" x2="406.8" y2="466" stroke="#4e5a52" stroke-width="2"/>
<polyline points="406,378 590,402" fill="none" stroke="#6e6850" stroke-width="1.2"/>
<polyline points="406,466 590,496" fill="none" stroke="#555" stroke-width="1.2"/>
<polygon points="111,409 121,410 230,424.5 333,444 336,452 230,435.5 112,417" fill="#d3d8db"/>
<polyline points="113,414.5 230,432 334,448.5" fill="none" stroke="#9ba1a5" stroke-width="1.3"/>
<polyline points="112,417 230,435.5 336,452" fill="none" stroke="#7d8387" stroke-width="1"/>
<polygon points="278,243 528,262 528,366 278,339" fill="url(#gUp)"/>
<line x1="524" y1="265" x2="524" y2="362" stroke="#eef1f3" stroke-width="3" opacity="0.8"/>
<polyline points="278,339 278,243 528,262" fill="none" stroke="#6f7579" stroke-width="1.4"/>
<polyline points="280.5,339 280.5,245.5 526,264" fill="none" stroke="#aeb4b8" stroke-width="1.2"/>
<line x1="528" y1="262" x2="528" y2="366" stroke="#3a3d40" stroke-width="1.8"/>
<line x1="528" y1="366" x2="278" y2="339" stroke="#676d71" stroke-width="1.5"/>
<polygon points="120.5,321 165,323.8 245,332.3 300,338 334,343.5 332.5,444.5 230,425 121,411" fill="url(#gLo)"/>
<polygon points="120.5,321 165,323.8 245,332.3 300,338 334,343.5 333,348 300,342.5 245,337 165,328.5 123,325.5" fill="#aab1b5" opacity="0.85"/>
<polyline points="120.5,321 165,323.8 245,332.3 300,338 334,343.5" fill="none" stroke="#6a7074" stroke-width="1.2"/>
<polyline points="123,325.5 165,328.5 245,337 300,342.5 333,348" fill="none" stroke="#8b9195" stroke-width="0.9"/>
<polyline points="121,411 120.5,321" fill="none" stroke="#777d81" stroke-width="1.6"/>
<line x1="123.5" y1="328" x2="123.5" y2="410" stroke="#f0f2f4" stroke-width="2" opacity="0.8"/>
<line x1="331" y1="348" x2="331" y2="443" stroke="#eef1f3" stroke-width="1.6" opacity="0.7"/>
<line x1="333.5" y1="343.5" x2="332.5" y2="445" stroke="#5f6569" stroke-width="1.8"/>
<polyline points="121,411 230,425 332.5,444.5" fill="none" stroke="#6a7074" stroke-width="1.5"/>
<g transform="translate(298,269)"><circle r="9" fill="#eef1f3" opacity="0.5"/><circle r="6.4" fill="#c3c5c6" stroke="#454748" stroke-width="1.7"/><path d="M-3.2,0H3.2M0,-3.2V3.2" stroke="#1c1c1c" stroke-width="2.5" transform="rotate(-20)"/></g>
<g transform="translate(317,320)"><circle r="9" fill="#eef1f3" opacity="0.5"/><circle r="6.4" fill="#c3c5c6" stroke="#454748" stroke-width="1.7"/><path d="M-3.2,0H3.2M0,-3.2V3.2" stroke="#1c1c1c" stroke-width="2.5" transform="rotate(-20)"/></g>
<g transform="translate(151,348)"><circle r="9" fill="#eef1f3" opacity="0.5"/><circle r="6.4" fill="#c3c5c6" stroke="#454748" stroke-width="1.7"/><path d="M-3.2,0H3.2M0,-3.2V3.2" stroke="#1c1c1c" stroke-width="2.5" transform="rotate(-20)"/></g>
<g transform="translate(298,367.5)"><circle r="9" fill="#eef1f3" opacity="0.5"/><circle r="6.4" fill="#c3c5c6" stroke="#454748" stroke-width="1.7"/><path d="M-3.2,0H3.2M0,-3.2V3.2" stroke="#1c1c1c" stroke-width="2.5" transform="rotate(-20)"/></g>
<g transform="translate(193,405.5)"><circle r="9" fill="#eef1f3" opacity="0.5"/><circle r="6.4" fill="#c3c5c6" stroke="#454748" stroke-width="1.7"/><path d="M-3.2,0H3.2M0,-3.2V3.2" stroke="#1c1c1c" stroke-width="2.5" transform="rotate(-20)"/></g>
<g transform="translate(317.5,425)"><circle r="9" fill="#eef1f3" opacity="0.5"/><circle r="6.4" fill="#c3c5c6" stroke="#454748" stroke-width="1.7"/><path d="M-3.2,0H3.2M0,-3.2V3.2" stroke="#1c1c1c" stroke-width="2.5" transform="rotate(-20)"/></g>
<g transform="translate(445.2,284.4)"><circle r="10.5" fill="#eef1f3" opacity="0.45"/><circle r="8.2" fill="#adafb1" stroke="#4a4d50" stroke-width="1.8"/><circle cx="-1" cy="-1" r="4" fill="#b4b6b8"/></g>
<g transform="translate(501.9,341)"><circle r="10.5" fill="#eef1f3" opacity="0.45"/><circle r="8.2" fill="#adafb1" stroke="#4a4d50" stroke-width="1.8"/><circle cx="-1" cy="-1" r="4" fill="#b4b6b8"/></g>
<g fill="none" stroke="#2a2a2a" stroke-width="1"><path d="M427.8,182.5 Q383,180 333.7,202.8"/><path d="M25.7,551 C19,548 19,535 26,523 L138.3,367.7"/><path d="M266.2,550.3 C242,551 264,455 291.7,392.7"/><path d="M528.5,551 C524,546 504,516 503,480 C502.7,470 500,420 499.6,368"/></g>
<g fill="#151515"><path d="M320.2,209.5 L333.7,196.9 L333.7,202.8 L338.6,206.6 Z"/><path d="M147.5,356.3 L133,366.6 L138.3,367.7 L141,373 Z"/><path d="M296.6,378.2 L285.9,392.3 L291.7,392.7 L295.7,396 Z"/><path d="M500.4,352.4 L494.3,369.7 L499.6,367.8 L505.4,370.1 Z"/></g>
</svg>
<div class="title">Figure 23: Fixing Aluminium Straps At End Of Wall</div>
<div class="lbl" style="left:448px;top:172.5px;">Rondo P140<br>J-track at<br>end of wall</div>
<div class="lbl" style="left:37px;top:540px;">Fix aluminium strip<br>to steel framing with<br>2 screws</div>
<div class="lbl" style="left:281px;top:540px;">Fix aluminium strip<br>to Party Wall framing<br>with 2 screws</div>
<div class="lbl" style="left:542px;top:540px;">Fix aluminium strip to<br>timber framing with<br>2 nails or 2 screws</div>
</div></body></html>
